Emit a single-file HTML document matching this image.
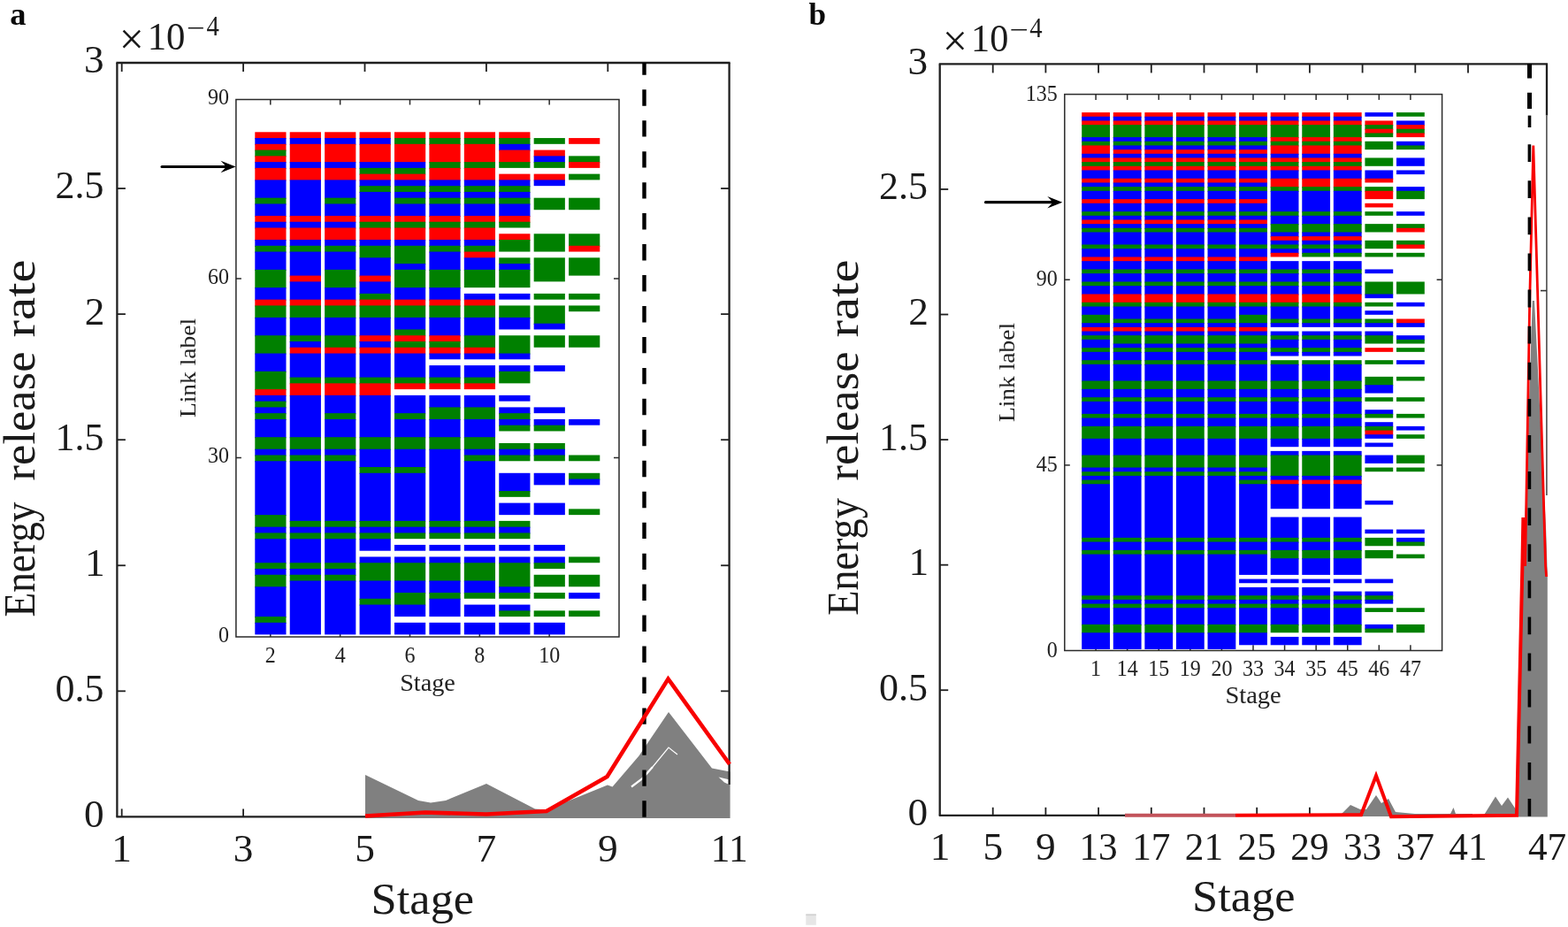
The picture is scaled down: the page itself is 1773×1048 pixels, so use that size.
<!DOCTYPE html>
<html lang="en">
<head>
<meta charset="utf-8">
<title>Energy release rate vs stage</title>
<style>
html,body{margin:0;padding:0;background:#fff;}
body{width:1773px;height:1048px;overflow:hidden;}
svg{display:block;font-family:'Liberation Serif', 'DejaVu Serif', serif;}
</style>
</head>
<body>
<svg width="1773" height="1048" viewBox="0 0 1773 1048">
<rect x="0" y="0" width="1773" height="1048" fill="#ffffff"/>
<text transform="translate(11.31 27.9)" font-size="36.5" font-weight="bold" fill="#0a0a0a">a</text>
<text transform="translate(914.55 27.6) scale(0.9616 1)" font-size="36.5" font-weight="bold" fill="#0a0a0a">b</text>
<g id="a-gray">
<polygon points="413,925 413,876 473,905 487,907.5 504,905 550,886 605,914.5 618,915.5 687,887.5 692.5,889.5 722.5,854.5 756,805 805,868.5 825.6,872.5 825.6,925" fill="#808080"/>
<polyline points="714,889.5 726,880.5 738,867" fill="none" stroke="#fff" stroke-width="2.2"/>
<polyline points="738,867 756,845 766,853" fill="none" stroke="#fff" stroke-width="1.2"/>
<polygon points="812.5,878.5 824,881.2 824,886.8 819,884.4" fill="#fff"/>
</g>
<g id="a-axes" stroke="#1f1f1f" stroke-width="2.3" fill="none">
<path d="M131.4 71 H825.6"/>
<path d="M131.4 923.4 H413"/>
<path d="M132.4 71 V923.4"/>
<path d="M824.6 71 V887"/>
<path d="M137.7 71 v10" stroke-width="1.8"/>
<path d="M275.1 71 v10" stroke-width="1.8"/>
<path d="M412.5 71 v10" stroke-width="1.8"/>
<path d="M549.9 71 v10" stroke-width="1.8"/>
<path d="M687.3 71 v10" stroke-width="1.8"/>
<path d="M137.7 923.4 v-9" stroke-width="1.8"/>
<path d="M275.1 923.4 v-9" stroke-width="1.8"/>
<path d="M132.4 781.33 h9.5" stroke-width="1.8"/>
<path d="M824.6 781.33 h-9.5" stroke-width="1.8"/>
<path d="M132.4 639.27 h9.5" stroke-width="1.8"/>
<path d="M824.6 639.27 h-9.5" stroke-width="1.8"/>
<path d="M132.4 497.2 h9.5" stroke-width="1.8"/>
<path d="M824.6 497.2 h-9.5" stroke-width="1.8"/>
<path d="M132.4 355.13 h9.5" stroke-width="1.8"/>
<path d="M824.6 355.13 h-9.5" stroke-width="1.8"/>
<path d="M132.4 213.07 h9.5" stroke-width="1.8"/>
<path d="M824.6 213.07 h-9.5" stroke-width="1.8"/>
</g>
<text transform="translate(94.94 934.8)" font-size="45.3" fill="#1a1a1a">0</text>
<text transform="translate(62.61 792.73) scale(0.97 1)" font-size="45.3" fill="#1a1a1a">0.5</text>
<text transform="translate(96.07 650.67)" font-size="45.3" fill="#1a1a1a">1</text>
<text transform="translate(62.61 508.6) scale(0.97 1)" font-size="45.3" fill="#1a1a1a">1.5</text>
<text transform="translate(95.84 366.53)" font-size="45.3" fill="#1a1a1a">2</text>
<text transform="translate(62.61 224.47) scale(0.97 1)" font-size="45.3" fill="#1a1a1a">2.5</text>
<text transform="translate(94.94 82.4)" font-size="45.3" fill="#1a1a1a">3</text>
<text transform="translate(126.37 974.2)" font-size="45.3" fill="#1a1a1a">1</text>
<text transform="translate(263.78 974.2)" font-size="45.3" fill="#1a1a1a">3</text>
<text transform="translate(401.18 974.2)" font-size="45.3" fill="#1a1a1a">5</text>
<text transform="translate(538.58 974.2)" font-size="45.3" fill="#1a1a1a">7</text>
<text transform="translate(675.97 974.2)" font-size="45.3" fill="#1a1a1a">9</text>
<text transform="translate(803.87 974.2) scale(0.955 1)" font-size="45.3" fill="#1a1a1a">11</text>
<text transform="translate(419.59 1032.8) scale(1.0391 1)" font-size="50.5" fill="#1a1a1a">Stage</text>
<text transform="translate(38.6 697.43) rotate(-90) scale(0.8966 1)" font-size="50.5" fill="#1a1a1a">Energy</text>
<text transform="translate(38.6 543.45) rotate(-90) scale(1.0412 1)" font-size="50.5" fill="#1a1a1a">release</text>
<text transform="translate(38.6 381.47) rotate(-90) scale(1.1623 1)" font-size="50.5" fill="#1a1a1a">rate</text>
<text transform="translate(134.76 61) scale(0.9976 1)" font-size="50" fill="#1a1a1a">×</text>
<text transform="translate(166.66 55.7) scale(0.9457 1)" font-size="45.3" fill="#1a1a1a">10</text>
<text transform="translate(210.95 42.4) scale(1.1817 1)" font-size="31" fill="#1a1a1a">−</text>
<text transform="translate(233.57 40.1) scale(0.9266 1)" font-size="31" fill="#1a1a1a">4</text>
<path d="M728.5 71 V924.4" stroke="#000" stroke-width="4.4" stroke-dasharray="18.4 16.56" stroke-dashoffset="4.7" fill="none"/>
<polyline points="413,922.5 481,918.5 550,920.5 618,917 686.5,878 755.5,767.5 825,864" fill="none" stroke="#f80000" stroke-width="4.6" stroke-linejoin="miter"/>
<rect x="266.9" y="112.5" width="433.1" height="607.5" fill="#fff" stroke="none"/>
<g stroke="#2a2a2a" stroke-width="1.5" fill="none">
<rect x="266.9" y="112.5" width="433.1" height="607.5"/>
<path d="M305.8 720 v-6"/>
<path d="M305.8 112.5 v6"/>
<path d="M384.64 720 v-6"/>
<path d="M384.64 112.5 v6"/>
<path d="M463.48 720 v-6"/>
<path d="M463.48 112.5 v6"/>
<path d="M542.32 720 v-6"/>
<path d="M542.32 112.5 v6"/>
<path d="M621.16 720 v-6"/>
<path d="M621.16 112.5 v6"/>
<path d="M266.9 517.5 h6"/>
<path d="M700 517.5 h-6"/>
<path d="M266.9 315 h6"/>
<path d="M700 315 h-6"/>
</g>
<g id="a-heat">
<rect x="288.3" y="149.3" width="35.2" height="7.76" fill="#ff0000"/>
<rect x="288.3" y="156.06" width="35.2" height="7.76" fill="#0000ff"/>
<rect x="288.3" y="162.83" width="35.2" height="7.76" fill="#ff0000"/>
<rect x="288.3" y="169.59" width="35.2" height="7.76" fill="#008000"/>
<rect x="288.3" y="176.35" width="35.2" height="7.76" fill="#ff0000"/>
<rect x="288.3" y="183.12" width="35.2" height="7.76" fill="#0000ff"/>
<rect x="288.3" y="189.88" width="35.2" height="14.53" fill="#ff0000"/>
<rect x="288.3" y="203.4" width="35.2" height="21.29" fill="#0000ff"/>
<rect x="288.3" y="223.69" width="35.2" height="7.76" fill="#008000"/>
<rect x="288.3" y="230.46" width="35.2" height="14.53" fill="#0000ff"/>
<rect x="288.3" y="243.98" width="35.2" height="7.76" fill="#ff0000"/>
<rect x="288.3" y="250.75" width="35.2" height="7.76" fill="#0000ff"/>
<rect x="288.3" y="257.51" width="35.2" height="14.53" fill="#ff0000"/>
<rect x="288.3" y="271.03" width="35.2" height="7.76" fill="#0000ff"/>
<rect x="288.3" y="277.8" width="35.2" height="7.76" fill="#008000"/>
<rect x="288.3" y="284.56" width="35.2" height="21.29" fill="#0000ff"/>
<rect x="288.3" y="304.85" width="35.2" height="21.29" fill="#008000"/>
<rect x="288.3" y="325.14" width="35.2" height="14.53" fill="#0000ff"/>
<rect x="288.3" y="338.66" width="35.2" height="7.76" fill="#ff0000"/>
<rect x="288.3" y="345.43" width="35.2" height="14.53" fill="#008000"/>
<rect x="288.3" y="358.95" width="35.2" height="21.29" fill="#0000ff"/>
<rect x="288.3" y="379.24" width="35.2" height="21.29" fill="#008000"/>
<rect x="288.3" y="399.53" width="35.2" height="21.29" fill="#0000ff"/>
<rect x="288.3" y="419.82" width="35.2" height="21.29" fill="#008000"/>
<rect x="288.3" y="440.11" width="35.2" height="7.76" fill="#ff0000"/>
<rect x="288.3" y="446.87" width="35.2" height="7.76" fill="#0000ff"/>
<rect x="288.3" y="453.63" width="35.2" height="7.76" fill="#008000"/>
<rect x="288.3" y="460.4" width="35.2" height="7.76" fill="#0000ff"/>
<rect x="288.3" y="467.16" width="35.2" height="7.76" fill="#008000"/>
<rect x="288.3" y="473.92" width="35.2" height="21.29" fill="#0000ff"/>
<rect x="288.3" y="494.21" width="35.2" height="14.53" fill="#008000"/>
<rect x="288.3" y="507.74" width="35.2" height="7.76" fill="#0000ff"/>
<rect x="288.3" y="514.5" width="35.2" height="7.76" fill="#008000"/>
<rect x="288.3" y="521.26" width="35.2" height="61.87" fill="#0000ff"/>
<rect x="288.3" y="582.13" width="35.2" height="14.53" fill="#008000"/>
<rect x="288.3" y="595.66" width="35.2" height="7.76" fill="#0000ff"/>
<rect x="288.3" y="602.42" width="35.2" height="7.76" fill="#008000"/>
<rect x="288.3" y="609.18" width="35.2" height="28.05" fill="#0000ff"/>
<rect x="288.3" y="636.24" width="35.2" height="7.76" fill="#008000"/>
<rect x="288.3" y="643" width="35.2" height="7.76" fill="#0000ff"/>
<rect x="288.3" y="649.76" width="35.2" height="14.53" fill="#008000"/>
<rect x="288.3" y="663.29" width="35.2" height="34.82" fill="#0000ff"/>
<rect x="288.3" y="697.1" width="35.2" height="7.76" fill="#008000"/>
<rect x="288.3" y="703.87" width="35.2" height="13.53" fill="#0000ff"/>
<rect x="327.72" y="149.3" width="35.2" height="7.76" fill="#ff0000"/>
<rect x="327.72" y="156.06" width="35.2" height="7.76" fill="#0000ff"/>
<rect x="327.72" y="162.83" width="35.2" height="21.29" fill="#ff0000"/>
<rect x="327.72" y="183.12" width="35.2" height="7.76" fill="#0000ff"/>
<rect x="327.72" y="189.88" width="35.2" height="14.53" fill="#ff0000"/>
<rect x="327.72" y="203.4" width="35.2" height="41.58" fill="#0000ff"/>
<rect x="327.72" y="243.98" width="35.2" height="7.76" fill="#ff0000"/>
<rect x="327.72" y="250.75" width="35.2" height="7.76" fill="#0000ff"/>
<rect x="327.72" y="257.51" width="35.2" height="14.53" fill="#ff0000"/>
<rect x="327.72" y="271.03" width="35.2" height="7.76" fill="#0000ff"/>
<rect x="327.72" y="277.8" width="35.2" height="7.76" fill="#008000"/>
<rect x="327.72" y="284.56" width="35.2" height="28.05" fill="#0000ff"/>
<rect x="327.72" y="311.61" width="35.2" height="7.76" fill="#ff0000"/>
<rect x="327.72" y="318.38" width="35.2" height="21.29" fill="#0000ff"/>
<rect x="327.72" y="338.66" width="35.2" height="7.76" fill="#ff0000"/>
<rect x="327.72" y="345.43" width="35.2" height="14.53" fill="#008000"/>
<rect x="327.72" y="358.95" width="35.2" height="21.29" fill="#0000ff"/>
<rect x="327.72" y="379.24" width="35.2" height="7.76" fill="#008000"/>
<rect x="327.72" y="386" width="35.2" height="7.76" fill="#0000ff"/>
<rect x="327.72" y="392.77" width="35.2" height="7.76" fill="#ff0000"/>
<rect x="327.72" y="399.53" width="35.2" height="28.05" fill="#0000ff"/>
<rect x="327.72" y="426.58" width="35.2" height="7.76" fill="#008000"/>
<rect x="327.72" y="433.35" width="35.2" height="14.53" fill="#ff0000"/>
<rect x="327.72" y="446.87" width="35.2" height="48.34" fill="#0000ff"/>
<rect x="327.72" y="494.21" width="35.2" height="14.53" fill="#008000"/>
<rect x="327.72" y="507.74" width="35.2" height="7.76" fill="#0000ff"/>
<rect x="327.72" y="514.5" width="35.2" height="7.76" fill="#008000"/>
<rect x="327.72" y="521.26" width="35.2" height="68.63" fill="#0000ff"/>
<rect x="327.72" y="588.89" width="35.2" height="7.76" fill="#008000"/>
<rect x="327.72" y="595.66" width="35.2" height="7.76" fill="#0000ff"/>
<rect x="327.72" y="602.42" width="35.2" height="7.76" fill="#008000"/>
<rect x="327.72" y="609.18" width="35.2" height="28.05" fill="#0000ff"/>
<rect x="327.72" y="636.24" width="35.2" height="7.76" fill="#008000"/>
<rect x="327.72" y="643" width="35.2" height="7.76" fill="#0000ff"/>
<rect x="327.72" y="649.76" width="35.2" height="7.76" fill="#008000"/>
<rect x="327.72" y="656.52" width="35.2" height="60.87" fill="#0000ff"/>
<rect x="367.14" y="149.3" width="35.2" height="7.76" fill="#ff0000"/>
<rect x="367.14" y="156.06" width="35.2" height="7.76" fill="#0000ff"/>
<rect x="367.14" y="162.83" width="35.2" height="21.29" fill="#ff0000"/>
<rect x="367.14" y="183.12" width="35.2" height="7.76" fill="#0000ff"/>
<rect x="367.14" y="189.88" width="35.2" height="14.53" fill="#ff0000"/>
<rect x="367.14" y="203.4" width="35.2" height="21.29" fill="#0000ff"/>
<rect x="367.14" y="223.69" width="35.2" height="7.76" fill="#008000"/>
<rect x="367.14" y="230.46" width="35.2" height="14.53" fill="#0000ff"/>
<rect x="367.14" y="243.98" width="35.2" height="7.76" fill="#ff0000"/>
<rect x="367.14" y="250.75" width="35.2" height="7.76" fill="#0000ff"/>
<rect x="367.14" y="257.51" width="35.2" height="14.53" fill="#ff0000"/>
<rect x="367.14" y="271.03" width="35.2" height="7.76" fill="#0000ff"/>
<rect x="367.14" y="277.8" width="35.2" height="7.76" fill="#008000"/>
<rect x="367.14" y="284.56" width="35.2" height="21.29" fill="#0000ff"/>
<rect x="367.14" y="304.85" width="35.2" height="21.29" fill="#008000"/>
<rect x="367.14" y="325.14" width="35.2" height="14.53" fill="#0000ff"/>
<rect x="367.14" y="338.66" width="35.2" height="7.76" fill="#ff0000"/>
<rect x="367.14" y="345.43" width="35.2" height="14.53" fill="#008000"/>
<rect x="367.14" y="358.95" width="35.2" height="21.29" fill="#0000ff"/>
<rect x="367.14" y="379.24" width="35.2" height="14.53" fill="#008000"/>
<rect x="367.14" y="392.77" width="35.2" height="7.76" fill="#ff0000"/>
<rect x="367.14" y="399.53" width="35.2" height="28.05" fill="#0000ff"/>
<rect x="367.14" y="426.58" width="35.2" height="7.76" fill="#008000"/>
<rect x="367.14" y="433.35" width="35.2" height="14.53" fill="#ff0000"/>
<rect x="367.14" y="446.87" width="35.2" height="21.29" fill="#0000ff"/>
<rect x="367.14" y="467.16" width="35.2" height="7.76" fill="#008000"/>
<rect x="367.14" y="473.92" width="35.2" height="21.29" fill="#0000ff"/>
<rect x="367.14" y="494.21" width="35.2" height="14.53" fill="#008000"/>
<rect x="367.14" y="507.74" width="35.2" height="7.76" fill="#0000ff"/>
<rect x="367.14" y="514.5" width="35.2" height="7.76" fill="#008000"/>
<rect x="367.14" y="521.26" width="35.2" height="68.63" fill="#0000ff"/>
<rect x="367.14" y="588.89" width="35.2" height="7.76" fill="#008000"/>
<rect x="367.14" y="595.66" width="35.2" height="7.76" fill="#0000ff"/>
<rect x="367.14" y="602.42" width="35.2" height="7.76" fill="#008000"/>
<rect x="367.14" y="609.18" width="35.2" height="28.05" fill="#0000ff"/>
<rect x="367.14" y="636.24" width="35.2" height="7.76" fill="#008000"/>
<rect x="367.14" y="643" width="35.2" height="7.76" fill="#0000ff"/>
<rect x="367.14" y="649.76" width="35.2" height="7.76" fill="#008000"/>
<rect x="367.14" y="656.52" width="35.2" height="60.87" fill="#0000ff"/>
<rect x="406.56" y="149.3" width="35.2" height="7.76" fill="#ff0000"/>
<rect x="406.56" y="156.06" width="35.2" height="7.76" fill="#0000ff"/>
<rect x="406.56" y="162.83" width="35.2" height="21.29" fill="#ff0000"/>
<rect x="406.56" y="183.12" width="35.2" height="7.76" fill="#0000ff"/>
<rect x="406.56" y="189.88" width="35.2" height="7.76" fill="#008000"/>
<rect x="406.56" y="196.64" width="35.2" height="7.76" fill="#ff0000"/>
<rect x="406.56" y="203.4" width="35.2" height="7.76" fill="#0000ff"/>
<rect x="406.56" y="210.17" width="35.2" height="7.76" fill="#008000"/>
<rect x="406.56" y="216.93" width="35.2" height="28.05" fill="#0000ff"/>
<rect x="406.56" y="243.98" width="35.2" height="7.76" fill="#ff0000"/>
<rect x="406.56" y="250.75" width="35.2" height="7.76" fill="#008000"/>
<rect x="406.56" y="257.51" width="35.2" height="14.53" fill="#ff0000"/>
<rect x="406.56" y="271.03" width="35.2" height="7.76" fill="#0000ff"/>
<rect x="406.56" y="277.8" width="35.2" height="14.53" fill="#008000"/>
<rect x="406.56" y="291.32" width="35.2" height="21.29" fill="#0000ff"/>
<rect x="406.56" y="311.61" width="35.2" height="7.76" fill="#ff0000"/>
<rect x="406.56" y="318.38" width="35.2" height="14.53" fill="#0000ff"/>
<rect x="406.56" y="331.9" width="35.2" height="7.76" fill="#008000"/>
<rect x="406.56" y="338.66" width="35.2" height="7.76" fill="#ff0000"/>
<rect x="406.56" y="345.43" width="35.2" height="14.53" fill="#008000"/>
<rect x="406.56" y="358.95" width="35.2" height="21.29" fill="#0000ff"/>
<rect x="406.56" y="379.24" width="35.2" height="7.76" fill="#ff0000"/>
<rect x="406.56" y="386" width="35.2" height="7.76" fill="#0000ff"/>
<rect x="406.56" y="392.77" width="35.2" height="7.76" fill="#ff0000"/>
<rect x="406.56" y="399.53" width="35.2" height="28.05" fill="#0000ff"/>
<rect x="406.56" y="426.58" width="35.2" height="7.76" fill="#008000"/>
<rect x="406.56" y="433.35" width="35.2" height="14.53" fill="#ff0000"/>
<rect x="406.56" y="446.87" width="35.2" height="48.34" fill="#0000ff"/>
<rect x="406.56" y="494.21" width="35.2" height="14.53" fill="#008000"/>
<rect x="406.56" y="507.74" width="35.2" height="21.29" fill="#0000ff"/>
<rect x="406.56" y="528.03" width="35.2" height="7.76" fill="#008000"/>
<rect x="406.56" y="534.79" width="35.2" height="55.1" fill="#0000ff"/>
<rect x="406.56" y="588.89" width="35.2" height="7.76" fill="#008000"/>
<rect x="406.56" y="595.66" width="35.2" height="7.76" fill="#0000ff"/>
<rect x="406.56" y="602.42" width="35.2" height="7.76" fill="#008000"/>
<rect x="406.56" y="609.18" width="35.2" height="13.53" fill="#0000ff"/>
<rect x="406.56" y="629.47" width="35.2" height="7.76" fill="#0000ff"/>
<rect x="406.56" y="636.24" width="35.2" height="21.29" fill="#008000"/>
<rect x="406.56" y="656.52" width="35.2" height="21.29" fill="#0000ff"/>
<rect x="406.56" y="676.81" width="35.2" height="7.76" fill="#008000"/>
<rect x="406.56" y="683.58" width="35.2" height="33.82" fill="#0000ff"/>
<rect x="445.98" y="149.3" width="35.2" height="7.76" fill="#ff0000"/>
<rect x="445.98" y="156.06" width="35.2" height="7.76" fill="#008000"/>
<rect x="445.98" y="162.83" width="35.2" height="21.29" fill="#ff0000"/>
<rect x="445.98" y="183.12" width="35.2" height="7.76" fill="#0000ff"/>
<rect x="445.98" y="189.88" width="35.2" height="7.76" fill="#008000"/>
<rect x="445.98" y="196.64" width="35.2" height="7.76" fill="#ff0000"/>
<rect x="445.98" y="203.4" width="35.2" height="7.76" fill="#0000ff"/>
<rect x="445.98" y="210.17" width="35.2" height="7.76" fill="#008000"/>
<rect x="445.98" y="216.93" width="35.2" height="7.76" fill="#0000ff"/>
<rect x="445.98" y="223.69" width="35.2" height="7.76" fill="#008000"/>
<rect x="445.98" y="230.46" width="35.2" height="14.53" fill="#0000ff"/>
<rect x="445.98" y="243.98" width="35.2" height="7.76" fill="#ff0000"/>
<rect x="445.98" y="250.75" width="35.2" height="7.76" fill="#008000"/>
<rect x="445.98" y="257.51" width="35.2" height="14.53" fill="#ff0000"/>
<rect x="445.98" y="271.03" width="35.2" height="7.76" fill="#0000ff"/>
<rect x="445.98" y="277.8" width="35.2" height="21.29" fill="#008000"/>
<rect x="445.98" y="298.09" width="35.2" height="7.76" fill="#0000ff"/>
<rect x="445.98" y="304.85" width="35.2" height="21.29" fill="#008000"/>
<rect x="445.98" y="325.14" width="35.2" height="14.53" fill="#0000ff"/>
<rect x="445.98" y="338.66" width="35.2" height="7.76" fill="#ff0000"/>
<rect x="445.98" y="345.43" width="35.2" height="14.53" fill="#008000"/>
<rect x="445.98" y="358.95" width="35.2" height="14.53" fill="#0000ff"/>
<rect x="445.98" y="372.48" width="35.2" height="7.76" fill="#008000"/>
<rect x="445.98" y="379.24" width="35.2" height="7.76" fill="#ff0000"/>
<rect x="445.98" y="386" width="35.2" height="7.76" fill="#008000"/>
<rect x="445.98" y="392.77" width="35.2" height="7.76" fill="#ff0000"/>
<rect x="445.98" y="399.53" width="35.2" height="28.05" fill="#0000ff"/>
<rect x="445.98" y="426.58" width="35.2" height="7.76" fill="#008000"/>
<rect x="445.98" y="433.35" width="35.2" height="6.76" fill="#ff0000"/>
<rect x="445.98" y="446.87" width="35.2" height="21.29" fill="#0000ff"/>
<rect x="445.98" y="467.16" width="35.2" height="7.76" fill="#008000"/>
<rect x="445.98" y="473.92" width="35.2" height="21.29" fill="#0000ff"/>
<rect x="445.98" y="494.21" width="35.2" height="14.53" fill="#008000"/>
<rect x="445.98" y="507.74" width="35.2" height="21.29" fill="#0000ff"/>
<rect x="445.98" y="528.03" width="35.2" height="7.76" fill="#008000"/>
<rect x="445.98" y="534.79" width="35.2" height="55.1" fill="#0000ff"/>
<rect x="445.98" y="588.89" width="35.2" height="7.76" fill="#008000"/>
<rect x="445.98" y="595.66" width="35.2" height="7.76" fill="#0000ff"/>
<rect x="445.98" y="602.42" width="35.2" height="6.76" fill="#008000"/>
<rect x="445.98" y="615.95" width="35.2" height="6.76" fill="#0000ff"/>
<rect x="445.98" y="629.47" width="35.2" height="7.76" fill="#0000ff"/>
<rect x="445.98" y="636.24" width="35.2" height="21.29" fill="#008000"/>
<rect x="445.98" y="656.52" width="35.2" height="14.53" fill="#0000ff"/>
<rect x="445.98" y="670.05" width="35.2" height="14.53" fill="#008000"/>
<rect x="445.98" y="683.58" width="35.2" height="13.53" fill="#0000ff"/>
<rect x="445.98" y="703.87" width="35.2" height="13.53" fill="#0000ff"/>
<rect x="485.4" y="149.3" width="35.2" height="7.76" fill="#ff0000"/>
<rect x="485.4" y="156.06" width="35.2" height="7.76" fill="#008000"/>
<rect x="485.4" y="162.83" width="35.2" height="21.29" fill="#ff0000"/>
<rect x="485.4" y="183.12" width="35.2" height="7.76" fill="#008000"/>
<rect x="485.4" y="189.88" width="35.2" height="14.53" fill="#ff0000"/>
<rect x="485.4" y="203.4" width="35.2" height="7.76" fill="#0000ff"/>
<rect x="485.4" y="210.17" width="35.2" height="7.76" fill="#008000"/>
<rect x="485.4" y="216.93" width="35.2" height="7.76" fill="#0000ff"/>
<rect x="485.4" y="223.69" width="35.2" height="7.76" fill="#008000"/>
<rect x="485.4" y="230.46" width="35.2" height="14.53" fill="#0000ff"/>
<rect x="485.4" y="243.98" width="35.2" height="7.76" fill="#ff0000"/>
<rect x="485.4" y="250.75" width="35.2" height="7.76" fill="#008000"/>
<rect x="485.4" y="257.51" width="35.2" height="14.53" fill="#ff0000"/>
<rect x="485.4" y="271.03" width="35.2" height="7.76" fill="#0000ff"/>
<rect x="485.4" y="277.8" width="35.2" height="7.76" fill="#008000"/>
<rect x="485.4" y="284.56" width="35.2" height="21.29" fill="#0000ff"/>
<rect x="485.4" y="304.85" width="35.2" height="21.29" fill="#008000"/>
<rect x="485.4" y="325.14" width="35.2" height="14.53" fill="#0000ff"/>
<rect x="485.4" y="338.66" width="35.2" height="7.76" fill="#ff0000"/>
<rect x="485.4" y="345.43" width="35.2" height="14.53" fill="#008000"/>
<rect x="485.4" y="358.95" width="35.2" height="21.29" fill="#0000ff"/>
<rect x="485.4" y="379.24" width="35.2" height="7.76" fill="#ff0000"/>
<rect x="485.4" y="386" width="35.2" height="7.76" fill="#008000"/>
<rect x="485.4" y="392.77" width="35.2" height="7.76" fill="#ff0000"/>
<rect x="485.4" y="399.53" width="35.2" height="6.76" fill="#0000ff"/>
<rect x="485.4" y="413.06" width="35.2" height="14.53" fill="#0000ff"/>
<rect x="485.4" y="426.58" width="35.2" height="7.76" fill="#008000"/>
<rect x="485.4" y="433.35" width="35.2" height="6.76" fill="#ff0000"/>
<rect x="485.4" y="446.87" width="35.2" height="14.53" fill="#0000ff"/>
<rect x="485.4" y="460.4" width="35.2" height="14.53" fill="#008000"/>
<rect x="485.4" y="473.92" width="35.2" height="21.29" fill="#0000ff"/>
<rect x="485.4" y="494.21" width="35.2" height="14.53" fill="#008000"/>
<rect x="485.4" y="507.74" width="35.2" height="82.16" fill="#0000ff"/>
<rect x="485.4" y="588.89" width="35.2" height="7.76" fill="#008000"/>
<rect x="485.4" y="595.66" width="35.2" height="7.76" fill="#0000ff"/>
<rect x="485.4" y="602.42" width="35.2" height="6.76" fill="#008000"/>
<rect x="485.4" y="615.95" width="35.2" height="6.76" fill="#0000ff"/>
<rect x="485.4" y="629.47" width="35.2" height="7.76" fill="#0000ff"/>
<rect x="485.4" y="636.24" width="35.2" height="21.29" fill="#008000"/>
<rect x="485.4" y="656.52" width="35.2" height="14.53" fill="#0000ff"/>
<rect x="485.4" y="670.05" width="35.2" height="7.76" fill="#008000"/>
<rect x="485.4" y="676.81" width="35.2" height="20.29" fill="#0000ff"/>
<rect x="485.4" y="703.87" width="35.2" height="13.53" fill="#0000ff"/>
<rect x="524.82" y="149.3" width="35.2" height="7.76" fill="#ff0000"/>
<rect x="524.82" y="156.06" width="35.2" height="7.76" fill="#008000"/>
<rect x="524.82" y="162.83" width="35.2" height="21.29" fill="#ff0000"/>
<rect x="524.82" y="183.12" width="35.2" height="7.76" fill="#008000"/>
<rect x="524.82" y="189.88" width="35.2" height="14.53" fill="#ff0000"/>
<rect x="524.82" y="203.4" width="35.2" height="7.76" fill="#0000ff"/>
<rect x="524.82" y="210.17" width="35.2" height="7.76" fill="#008000"/>
<rect x="524.82" y="216.93" width="35.2" height="7.76" fill="#0000ff"/>
<rect x="524.82" y="223.69" width="35.2" height="7.76" fill="#008000"/>
<rect x="524.82" y="230.46" width="35.2" height="14.53" fill="#0000ff"/>
<rect x="524.82" y="243.98" width="35.2" height="7.76" fill="#ff0000"/>
<rect x="524.82" y="250.75" width="35.2" height="7.76" fill="#008000"/>
<rect x="524.82" y="257.51" width="35.2" height="14.53" fill="#ff0000"/>
<rect x="524.82" y="271.03" width="35.2" height="7.76" fill="#0000ff"/>
<rect x="524.82" y="277.8" width="35.2" height="7.76" fill="#008000"/>
<rect x="524.82" y="284.56" width="35.2" height="7.76" fill="#ff0000"/>
<rect x="524.82" y="291.32" width="35.2" height="14.53" fill="#0000ff"/>
<rect x="524.82" y="304.85" width="35.2" height="20.29" fill="#008000"/>
<rect x="524.82" y="331.9" width="35.2" height="7.76" fill="#0000ff"/>
<rect x="524.82" y="338.66" width="35.2" height="7.76" fill="#ff0000"/>
<rect x="524.82" y="345.43" width="35.2" height="14.53" fill="#008000"/>
<rect x="524.82" y="358.95" width="35.2" height="21.29" fill="#0000ff"/>
<rect x="524.82" y="379.24" width="35.2" height="14.53" fill="#008000"/>
<rect x="524.82" y="392.77" width="35.2" height="7.76" fill="#ff0000"/>
<rect x="524.82" y="399.53" width="35.2" height="6.76" fill="#0000ff"/>
<rect x="524.82" y="413.06" width="35.2" height="14.53" fill="#0000ff"/>
<rect x="524.82" y="426.58" width="35.2" height="7.76" fill="#008000"/>
<rect x="524.82" y="433.35" width="35.2" height="6.76" fill="#ff0000"/>
<rect x="524.82" y="446.87" width="35.2" height="14.53" fill="#0000ff"/>
<rect x="524.82" y="460.4" width="35.2" height="14.53" fill="#008000"/>
<rect x="524.82" y="473.92" width="35.2" height="21.29" fill="#0000ff"/>
<rect x="524.82" y="494.21" width="35.2" height="14.53" fill="#008000"/>
<rect x="524.82" y="507.74" width="35.2" height="7.76" fill="#0000ff"/>
<rect x="524.82" y="514.5" width="35.2" height="7.76" fill="#008000"/>
<rect x="524.82" y="521.26" width="35.2" height="68.63" fill="#0000ff"/>
<rect x="524.82" y="588.89" width="35.2" height="7.76" fill="#008000"/>
<rect x="524.82" y="595.66" width="35.2" height="7.76" fill="#0000ff"/>
<rect x="524.82" y="602.42" width="35.2" height="6.76" fill="#008000"/>
<rect x="524.82" y="615.95" width="35.2" height="6.76" fill="#0000ff"/>
<rect x="524.82" y="629.47" width="35.2" height="7.76" fill="#0000ff"/>
<rect x="524.82" y="636.24" width="35.2" height="21.29" fill="#008000"/>
<rect x="524.82" y="656.52" width="35.2" height="14.53" fill="#0000ff"/>
<rect x="524.82" y="670.05" width="35.2" height="6.76" fill="#008000"/>
<rect x="524.82" y="683.58" width="35.2" height="13.53" fill="#0000ff"/>
<rect x="524.82" y="703.87" width="35.2" height="13.53" fill="#0000ff"/>
<rect x="564.24" y="149.3" width="35.2" height="7.76" fill="#ff0000"/>
<rect x="564.24" y="156.06" width="35.2" height="7.76" fill="#008000"/>
<rect x="564.24" y="162.83" width="35.2" height="7.76" fill="#0000ff"/>
<rect x="564.24" y="169.59" width="35.2" height="14.53" fill="#ff0000"/>
<rect x="564.24" y="183.12" width="35.2" height="6.76" fill="#008000"/>
<rect x="564.24" y="196.64" width="35.2" height="7.76" fill="#ff0000"/>
<rect x="564.24" y="203.4" width="35.2" height="7.76" fill="#0000ff"/>
<rect x="564.24" y="210.17" width="35.2" height="7.76" fill="#008000"/>
<rect x="564.24" y="216.93" width="35.2" height="7.76" fill="#0000ff"/>
<rect x="564.24" y="223.69" width="35.2" height="7.76" fill="#008000"/>
<rect x="564.24" y="230.46" width="35.2" height="14.53" fill="#0000ff"/>
<rect x="564.24" y="243.98" width="35.2" height="7.76" fill="#ff0000"/>
<rect x="564.24" y="250.75" width="35.2" height="6.76" fill="#008000"/>
<rect x="564.24" y="264.27" width="35.2" height="7.76" fill="#ff0000"/>
<rect x="564.24" y="271.03" width="35.2" height="13.53" fill="#008000"/>
<rect x="564.24" y="291.32" width="35.2" height="7.76" fill="#008000"/>
<rect x="564.24" y="298.09" width="35.2" height="7.76" fill="#0000ff"/>
<rect x="564.24" y="304.85" width="35.2" height="20.29" fill="#008000"/>
<rect x="564.24" y="331.9" width="35.2" height="6.76" fill="#0000ff"/>
<rect x="564.24" y="345.43" width="35.2" height="14.53" fill="#008000"/>
<rect x="564.24" y="358.95" width="35.2" height="13.53" fill="#0000ff"/>
<rect x="564.24" y="379.24" width="35.2" height="21.29" fill="#008000"/>
<rect x="564.24" y="399.53" width="35.2" height="6.76" fill="#0000ff"/>
<rect x="564.24" y="413.06" width="35.2" height="7.76" fill="#0000ff"/>
<rect x="564.24" y="419.82" width="35.2" height="13.53" fill="#008000"/>
<rect x="564.24" y="446.87" width="35.2" height="6.76" fill="#0000ff"/>
<rect x="564.24" y="460.4" width="35.2" height="7.76" fill="#0000ff"/>
<rect x="564.24" y="467.16" width="35.2" height="7.76" fill="#008000"/>
<rect x="564.24" y="473.92" width="35.2" height="7.76" fill="#0000ff"/>
<rect x="564.24" y="480.69" width="35.2" height="6.76" fill="#008000"/>
<rect x="564.24" y="500.98" width="35.2" height="7.76" fill="#008000"/>
<rect x="564.24" y="507.74" width="35.2" height="7.76" fill="#0000ff"/>
<rect x="564.24" y="514.5" width="35.2" height="6.76" fill="#008000"/>
<rect x="564.24" y="534.79" width="35.2" height="21.29" fill="#0000ff"/>
<rect x="564.24" y="555.08" width="35.2" height="6.76" fill="#008000"/>
<rect x="564.24" y="568.61" width="35.2" height="13.53" fill="#0000ff"/>
<rect x="564.24" y="588.89" width="35.2" height="7.76" fill="#008000"/>
<rect x="564.24" y="595.66" width="35.2" height="7.76" fill="#0000ff"/>
<rect x="564.24" y="602.42" width="35.2" height="6.76" fill="#008000"/>
<rect x="564.24" y="615.95" width="35.2" height="6.76" fill="#0000ff"/>
<rect x="564.24" y="629.47" width="35.2" height="7.76" fill="#0000ff"/>
<rect x="564.24" y="636.24" width="35.2" height="28.05" fill="#008000"/>
<rect x="564.24" y="663.29" width="35.2" height="7.76" fill="#0000ff"/>
<rect x="564.24" y="670.05" width="35.2" height="6.76" fill="#008000"/>
<rect x="564.24" y="683.58" width="35.2" height="7.76" fill="#0000ff"/>
<rect x="564.24" y="690.34" width="35.2" height="6.76" fill="#008000"/>
<rect x="564.24" y="703.87" width="35.2" height="13.53" fill="#0000ff"/>
<rect x="603.66" y="156.06" width="35.2" height="6.76" fill="#008000"/>
<rect x="603.66" y="169.59" width="35.2" height="7.76" fill="#ff0000"/>
<rect x="603.66" y="176.35" width="35.2" height="7.76" fill="#0000ff"/>
<rect x="603.66" y="183.12" width="35.2" height="6.76" fill="#008000"/>
<rect x="603.66" y="196.64" width="35.2" height="7.76" fill="#ff0000"/>
<rect x="603.66" y="203.4" width="35.2" height="6.76" fill="#0000ff"/>
<rect x="603.66" y="223.69" width="35.2" height="13.53" fill="#008000"/>
<rect x="603.66" y="264.27" width="35.2" height="20.29" fill="#008000"/>
<rect x="603.66" y="291.32" width="35.2" height="27.05" fill="#008000"/>
<rect x="603.66" y="331.9" width="35.2" height="6.76" fill="#008000"/>
<rect x="603.66" y="345.43" width="35.2" height="21.29" fill="#008000"/>
<rect x="603.66" y="365.72" width="35.2" height="6.76" fill="#0000ff"/>
<rect x="603.66" y="379.24" width="35.2" height="13.53" fill="#008000"/>
<rect x="603.66" y="413.06" width="35.2" height="6.76" fill="#0000ff"/>
<rect x="603.66" y="460.4" width="35.2" height="6.76" fill="#0000ff"/>
<rect x="603.66" y="473.92" width="35.2" height="7.76" fill="#0000ff"/>
<rect x="603.66" y="480.69" width="35.2" height="6.76" fill="#008000"/>
<rect x="603.66" y="500.98" width="35.2" height="7.76" fill="#008000"/>
<rect x="603.66" y="507.74" width="35.2" height="7.76" fill="#0000ff"/>
<rect x="603.66" y="514.5" width="35.2" height="6.76" fill="#008000"/>
<rect x="603.66" y="534.79" width="35.2" height="13.53" fill="#0000ff"/>
<rect x="603.66" y="568.61" width="35.2" height="13.53" fill="#0000ff"/>
<rect x="603.66" y="615.95" width="35.2" height="6.76" fill="#0000ff"/>
<rect x="603.66" y="629.47" width="35.2" height="7.76" fill="#0000ff"/>
<rect x="603.66" y="636.24" width="35.2" height="6.76" fill="#008000"/>
<rect x="603.66" y="649.76" width="35.2" height="13.53" fill="#008000"/>
<rect x="603.66" y="670.05" width="35.2" height="6.76" fill="#008000"/>
<rect x="603.66" y="690.34" width="35.2" height="6.76" fill="#008000"/>
<rect x="603.66" y="703.87" width="35.2" height="13.53" fill="#0000ff"/>
<rect x="643.08" y="156.06" width="35.2" height="6.76" fill="#ff0000"/>
<rect x="643.08" y="176.35" width="35.2" height="7.76" fill="#008000"/>
<rect x="643.08" y="183.12" width="35.2" height="6.76" fill="#ff0000"/>
<rect x="643.08" y="196.64" width="35.2" height="6.76" fill="#008000"/>
<rect x="643.08" y="223.69" width="35.2" height="13.53" fill="#008000"/>
<rect x="643.08" y="264.27" width="35.2" height="14.53" fill="#008000"/>
<rect x="643.08" y="277.8" width="35.2" height="6.76" fill="#ff0000"/>
<rect x="643.08" y="291.32" width="35.2" height="20.29" fill="#008000"/>
<rect x="643.08" y="331.9" width="35.2" height="6.76" fill="#008000"/>
<rect x="643.08" y="345.43" width="35.2" height="6.76" fill="#008000"/>
<rect x="643.08" y="379.24" width="35.2" height="13.53" fill="#008000"/>
<rect x="643.08" y="473.92" width="35.2" height="6.76" fill="#0000ff"/>
<rect x="643.08" y="514.5" width="35.2" height="6.76" fill="#008000"/>
<rect x="643.08" y="534.79" width="35.2" height="7.76" fill="#008000"/>
<rect x="643.08" y="541.55" width="35.2" height="6.76" fill="#0000ff"/>
<rect x="643.08" y="575.37" width="35.2" height="6.76" fill="#008000"/>
<rect x="643.08" y="629.47" width="35.2" height="6.76" fill="#008000"/>
<rect x="643.08" y="649.76" width="35.2" height="13.53" fill="#008000"/>
<rect x="643.08" y="670.05" width="35.2" height="6.76" fill="#0000ff"/>
<rect x="643.08" y="690.34" width="35.2" height="6.76" fill="#008000"/>
</g>
<text transform="translate(247.12 725.9) scale(0.985 1)" font-size="24.4" fill="#222">0</text>
<text transform="translate(235.11 523.4) scale(0.985 1)" font-size="24.4" fill="#222">30</text>
<text transform="translate(235.11 320.9) scale(0.985 1)" font-size="24.4" fill="#222">60</text>
<text transform="translate(235.11 118.4) scale(0.985 1)" font-size="24.4" fill="#222">90</text>
<text transform="translate(299.79 749) scale(0.985 1)" font-size="24.4" fill="#222">2</text>
<text transform="translate(378.63 749) scale(0.985 1)" font-size="24.4" fill="#222">4</text>
<text transform="translate(457.47 749) scale(0.985 1)" font-size="24.4" fill="#222">6</text>
<text transform="translate(536.31 749) scale(0.985 1)" font-size="24.4" fill="#222">8</text>
<text transform="translate(609.14 749) scale(0.985 1)" font-size="24.4" fill="#222">10</text>
<text transform="translate(452.16 780.8) scale(1.0666 1)" font-size="26.5" fill="#222">Stage</text>
<text transform="translate(221.2 472.09) rotate(-90) scale(1.0786 1)" font-size="25.5" fill="#222">Link label</text>
<path d="M183.1 188.5 H258.6" stroke="#000" stroke-width="3.2" stroke-linecap="round" fill="none"/>
<path d="M266.6 188.5 L249.6 181.7 Q254.1 186.5 255.6 188.5 Q254.1 190.5 249.6 195.3 Z" fill="#000"/>
<g id="b-gray">
<polygon points="1716.5,923.5 1721.7,640 1724.5,585 1732.8,340 1735,340 1748.2,600 1749.8,650 1749.8,923.5" fill="#808080"/>
<polygon points="1514,923 1527,910 1538,915 1545,915 1556,899 1562,908 1570,903 1578,918 1600,920 1640,920 1643.5,913 1646,920 1665,920 1665,923" fill="#808080"/>
<polygon points="1677,923 1691,900.5 1698,911 1705,901.5 1716,918 1716,923" fill="#808080"/>
</g>
<g id="b-axes" stroke="#1f1f1f" stroke-width="2.3" fill="none">
<path d="M1061.7 72.4 H1750"/>
<path d="M1061.7 921.8 H1274"/>
<path d="M1062.7 72.4 V921.8"/>
<path d="M1749 72.4 V130.5"/>
<path d="M1122.7 72.4 v10" stroke-width="1.8"/>
<path d="M1122.7 921.8 v-9" stroke-width="1.8"/>
<path d="M1182.4 72.4 v10" stroke-width="1.8"/>
<path d="M1182.4 921.8 v-9" stroke-width="1.8"/>
<path d="M1242.1 72.4 v10" stroke-width="1.8"/>
<path d="M1242.1 921.8 v-9" stroke-width="1.8"/>
<path d="M1301.8 72.4 v10" stroke-width="1.8"/>
<path d="M1301.8 921.8 v-9" stroke-width="1.8"/>
<path d="M1361.5 72.4 v10" stroke-width="1.8"/>
<path d="M1361.5 921.8 v-9" stroke-width="1.8"/>
<path d="M1421.2 72.4 v10" stroke-width="1.8"/>
<path d="M1421.2 921.8 v-9" stroke-width="1.8"/>
<path d="M1480.9 72.4 v10" stroke-width="1.8"/>
<path d="M1480.9 921.8 v-9" stroke-width="1.8"/>
<path d="M1540.6 72.4 v10" stroke-width="1.8"/>
<path d="M1600.3 72.4 v10" stroke-width="1.8"/>
<path d="M1660 72.4 v10" stroke-width="1.8"/>
<path d="M1062.7 780.23 h9.5" stroke-width="1.8"/>
<path d="M1062.7 638.67 h9.5" stroke-width="1.8"/>
<path d="M1062.7 497.1 h9.5" stroke-width="1.8"/>
<path d="M1062.7 355.53 h9.5" stroke-width="1.8"/>
<path d="M1062.7 213.97 h9.5" stroke-width="1.8"/>
</g>
<path d="M1748.9 130.5 V560" stroke="#333" stroke-width="1.4" fill="none"/>
<path d="M1742 328.6 h7" stroke="#333" stroke-width="1.6" fill="none"/>
<text transform="translate(1026.44 933.3)" font-size="45.3" fill="#1a1a1a">0</text>
<text transform="translate(994.11 791.73) scale(0.97 1)" font-size="45.3" fill="#1a1a1a">0.5</text>
<text transform="translate(1027.57 650.17)" font-size="45.3" fill="#1a1a1a">1</text>
<text transform="translate(994.11 508.6) scale(0.97 1)" font-size="45.3" fill="#1a1a1a">1.5</text>
<text transform="translate(1027.34 367.03)" font-size="45.3" fill="#1a1a1a">2</text>
<text transform="translate(994.11 225.47) scale(0.97 1)" font-size="45.3" fill="#1a1a1a">2.5</text>
<text transform="translate(1026.44 83.9)" font-size="45.3" fill="#1a1a1a">3</text>
<text transform="translate(1051.67 972.3)" font-size="45.3" fill="#1a1a1a">1</text>
<text transform="translate(1111.38 972.3)" font-size="45.3" fill="#1a1a1a">5</text>
<text transform="translate(1171.08 972.3)" font-size="45.3" fill="#1a1a1a">9</text>
<text transform="translate(1220.47 972.3) scale(0.955 1)" font-size="45.3" fill="#1a1a1a">13</text>
<text transform="translate(1280.17 972.3) scale(0.955 1)" font-size="45.3" fill="#1a1a1a">17</text>
<text transform="translate(1339.87 972.3) scale(0.955 1)" font-size="45.3" fill="#1a1a1a">21</text>
<text transform="translate(1399.57 972.3) scale(0.955 1)" font-size="45.3" fill="#1a1a1a">25</text>
<text transform="translate(1459.27 972.3) scale(0.955 1)" font-size="45.3" fill="#1a1a1a">29</text>
<text transform="translate(1518.97 972.3) scale(0.955 1)" font-size="45.3" fill="#1a1a1a">33</text>
<text transform="translate(1578.67 972.3) scale(0.955 1)" font-size="45.3" fill="#1a1a1a">37</text>
<text transform="translate(1638.37 972.3) scale(0.955 1)" font-size="45.3" fill="#1a1a1a">41</text>
<text transform="translate(1727.92 972.3) scale(0.955 1)" font-size="45.3" fill="#1a1a1a">47</text>
<text transform="translate(1347.99 1029.6) scale(1.0391 1)" font-size="50.5" fill="#1a1a1a">Stage</text>
<text transform="translate(969.8 695.75) rotate(-90) scale(0.9147 1)" font-size="50.5" fill="#1a1a1a">Energy</text>
<text transform="translate(969.8 543.45) rotate(-90) scale(1.0412 1)" font-size="50.5" fill="#1a1a1a">release</text>
<text transform="translate(969.8 381.47) rotate(-90) scale(1.1623 1)" font-size="50.5" fill="#1a1a1a">rate</text>
<text transform="translate(1065.64 62.8) scale(1.0024 1)" font-size="50" fill="#1a1a1a">×</text>
<text transform="translate(1098.01 57.5) scale(0.9332 1)" font-size="45.3" fill="#1a1a1a">10</text>
<text transform="translate(1141.59 44.2) scale(1.2224 1)" font-size="31" fill="#1a1a1a">−</text>
<text transform="translate(1164.27 41.7) scale(0.9206 1)" font-size="31.2" fill="#1a1a1a">4</text>
<polyline points="1272,921.7 1397,921.7" fill="none" stroke="#c2525a" stroke-width="4"/>
<polyline points="1397,921.7 1539,921.2 1556,877 1573,923.2 1715.0,921.8 1721.6,630 1722.4,585" fill="none" stroke="#f80000" stroke-width="4" stroke-linejoin="miter"/>
<polyline points="1724.6,640 1729.6,345 1733.8,164.5 1738.9,340 1747.6,640 1748.6,652" fill="none" stroke="#f80000" stroke-width="2.8" stroke-linejoin="miter"/>
<path d="M1729.5 72 V88.6 M1729.5 104.8 V122.9" stroke="#000" stroke-width="5" fill="none"/>
<path d="M1729.5 130.6 V144" stroke="#000" stroke-width="3.6" fill="none"/>
<path d="M1729.4 163.2 V922.8" stroke="#000" stroke-width="3.6" stroke-dasharray="19.8 21.3" fill="none"/>
<rect x="1203.8" y="106.6" width="426.8" height="628.9" fill="#fff" stroke="none"/>
<g stroke="#2a2a2a" stroke-width="1.5" fill="none">
<rect x="1203.8" y="106.6" width="426.8" height="628.9"/>
<path d="M1239.1 735.5 v-6.3"/>
<path d="M1239.1 106.6 v6.3"/>
<path d="M1274.68 735.5 v-6.3"/>
<path d="M1274.68 106.6 v6.3"/>
<path d="M1310.26 735.5 v-6.3"/>
<path d="M1310.26 106.6 v6.3"/>
<path d="M1345.84 735.5 v-6.3"/>
<path d="M1345.84 106.6 v6.3"/>
<path d="M1381.42 735.5 v-6.3"/>
<path d="M1381.42 106.6 v6.3"/>
<path d="M1417 735.5 v-6.3"/>
<path d="M1417 106.6 v6.3"/>
<path d="M1452.58 735.5 v-6.3"/>
<path d="M1452.58 106.6 v6.3"/>
<path d="M1488.16 735.5 v-6.3"/>
<path d="M1488.16 106.6 v6.3"/>
<path d="M1523.74 735.5 v-6.3"/>
<path d="M1523.74 106.6 v6.3"/>
<path d="M1559.32 735.5 v-6.3"/>
<path d="M1559.32 106.6 v6.3"/>
<path d="M1594.9 735.5 v-6.3"/>
<path d="M1594.9 106.6 v6.3"/>
<path d="M1203.8 525.87 h6"/>
<path d="M1630.6 525.87 h-6"/>
<path d="M1203.8 316.23 h6"/>
<path d="M1630.6 316.23 h-6"/>
</g>
<g id="b-heat">
<rect x="1223.2" y="127.1" width="31.8" height="5.67" fill="#ff0000"/>
<rect x="1223.2" y="131.77" width="31.8" height="5.67" fill="#0000ff"/>
<rect x="1223.2" y="136.44" width="31.8" height="5.67" fill="#ff0000"/>
<rect x="1223.2" y="141.1" width="31.8" height="15" fill="#008000"/>
<rect x="1223.2" y="155.11" width="31.8" height="5.67" fill="#0000ff"/>
<rect x="1223.2" y="159.78" width="31.8" height="5.67" fill="#008000"/>
<rect x="1223.2" y="164.44" width="31.8" height="10.34" fill="#ff0000"/>
<rect x="1223.2" y="173.78" width="31.8" height="5.67" fill="#0000ff"/>
<rect x="1223.2" y="178.45" width="31.8" height="5.67" fill="#ff0000"/>
<rect x="1223.2" y="183.12" width="31.8" height="5.67" fill="#008000"/>
<rect x="1223.2" y="187.78" width="31.8" height="5.67" fill="#ff0000"/>
<rect x="1223.2" y="192.45" width="31.8" height="10.34" fill="#0000ff"/>
<rect x="1223.2" y="201.79" width="31.8" height="5.67" fill="#ff0000"/>
<rect x="1223.2" y="206.46" width="31.8" height="5.67" fill="#0000ff"/>
<rect x="1223.2" y="211.12" width="31.8" height="5.67" fill="#008000"/>
<rect x="1223.2" y="215.79" width="31.8" height="10.34" fill="#0000ff"/>
<rect x="1223.2" y="225.13" width="31.8" height="5.67" fill="#ff0000"/>
<rect x="1223.2" y="229.8" width="31.8" height="10.34" fill="#0000ff"/>
<rect x="1223.2" y="239.13" width="31.8" height="5.67" fill="#008000"/>
<rect x="1223.2" y="243.8" width="31.8" height="5.67" fill="#0000ff"/>
<rect x="1223.2" y="248.47" width="31.8" height="5.67" fill="#ff0000"/>
<rect x="1223.2" y="253.14" width="31.8" height="5.67" fill="#0000ff"/>
<rect x="1223.2" y="257.8" width="31.8" height="5.67" fill="#008000"/>
<rect x="1223.2" y="262.47" width="31.8" height="15" fill="#0000ff"/>
<rect x="1223.2" y="276.48" width="31.8" height="5.67" fill="#008000"/>
<rect x="1223.2" y="281.14" width="31.8" height="10.34" fill="#0000ff"/>
<rect x="1223.2" y="290.48" width="31.8" height="5.67" fill="#ff0000"/>
<rect x="1223.2" y="295.15" width="31.8" height="10.34" fill="#0000ff"/>
<rect x="1223.2" y="304.48" width="31.8" height="5.67" fill="#008000"/>
<rect x="1223.2" y="309.15" width="31.8" height="10.34" fill="#0000ff"/>
<rect x="1223.2" y="318.49" width="31.8" height="5.67" fill="#008000"/>
<rect x="1223.2" y="323.16" width="31.8" height="10.34" fill="#0000ff"/>
<rect x="1223.2" y="332.49" width="31.8" height="10.34" fill="#ff0000"/>
<rect x="1223.2" y="341.83" width="31.8" height="5.67" fill="#008000"/>
<rect x="1223.2" y="346.5" width="31.8" height="10.34" fill="#0000ff"/>
<rect x="1223.2" y="355.83" width="31.8" height="10.34" fill="#008000"/>
<rect x="1223.2" y="365.17" width="31.8" height="5.67" fill="#0000ff"/>
<rect x="1223.2" y="369.84" width="31.8" height="5.67" fill="#ff0000"/>
<rect x="1223.2" y="374.5" width="31.8" height="5.67" fill="#0000ff"/>
<rect x="1223.2" y="379.17" width="31.8" height="5.67" fill="#008000"/>
<rect x="1223.2" y="383.84" width="31.8" height="10.34" fill="#0000ff"/>
<rect x="1223.2" y="393.18" width="31.8" height="5.67" fill="#008000"/>
<rect x="1223.2" y="397.84" width="31.8" height="10.34" fill="#0000ff"/>
<rect x="1223.2" y="407.18" width="31.8" height="5.67" fill="#008000"/>
<rect x="1223.2" y="411.85" width="31.8" height="19.67" fill="#0000ff"/>
<rect x="1223.2" y="430.52" width="31.8" height="10.34" fill="#008000"/>
<rect x="1223.2" y="439.86" width="31.8" height="10.34" fill="#0000ff"/>
<rect x="1223.2" y="449.19" width="31.8" height="5.67" fill="#008000"/>
<rect x="1223.2" y="453.86" width="31.8" height="15" fill="#0000ff"/>
<rect x="1223.2" y="467.86" width="31.8" height="5.67" fill="#008000"/>
<rect x="1223.2" y="472.53" width="31.8" height="10.34" fill="#0000ff"/>
<rect x="1223.2" y="481.87" width="31.8" height="15" fill="#008000"/>
<rect x="1223.2" y="495.87" width="31.8" height="19.67" fill="#0000ff"/>
<rect x="1223.2" y="514.54" width="31.8" height="15" fill="#008000"/>
<rect x="1223.2" y="528.55" width="31.8" height="5.67" fill="#0000ff"/>
<rect x="1223.2" y="533.22" width="31.8" height="5.67" fill="#008000"/>
<rect x="1223.2" y="537.88" width="31.8" height="5.67" fill="#0000ff"/>
<rect x="1223.2" y="542.55" width="31.8" height="5.67" fill="#008000"/>
<rect x="1223.2" y="547.22" width="31.8" height="61.68" fill="#0000ff"/>
<rect x="1223.2" y="607.9" width="31.8" height="5.67" fill="#008000"/>
<rect x="1223.2" y="612.57" width="31.8" height="10.34" fill="#0000ff"/>
<rect x="1223.2" y="621.91" width="31.8" height="5.67" fill="#008000"/>
<rect x="1223.2" y="626.58" width="31.8" height="47.68" fill="#0000ff"/>
<rect x="1223.2" y="673.26" width="31.8" height="5.67" fill="#008000"/>
<rect x="1223.2" y="677.92" width="31.8" height="5.67" fill="#0000ff"/>
<rect x="1223.2" y="682.59" width="31.8" height="5.67" fill="#008000"/>
<rect x="1223.2" y="687.26" width="31.8" height="19.67" fill="#0000ff"/>
<rect x="1223.2" y="705.93" width="31.8" height="10.34" fill="#008000"/>
<rect x="1223.2" y="715.27" width="31.8" height="18.67" fill="#0000ff"/>
<rect x="1258.78" y="127.1" width="31.8" height="5.67" fill="#ff0000"/>
<rect x="1258.78" y="131.77" width="31.8" height="5.67" fill="#0000ff"/>
<rect x="1258.78" y="136.44" width="31.8" height="5.67" fill="#ff0000"/>
<rect x="1258.78" y="141.1" width="31.8" height="15" fill="#008000"/>
<rect x="1258.78" y="155.11" width="31.8" height="5.67" fill="#0000ff"/>
<rect x="1258.78" y="159.78" width="31.8" height="5.67" fill="#008000"/>
<rect x="1258.78" y="164.44" width="31.8" height="5.67" fill="#0000ff"/>
<rect x="1258.78" y="169.11" width="31.8" height="5.67" fill="#ff0000"/>
<rect x="1258.78" y="173.78" width="31.8" height="5.67" fill="#0000ff"/>
<rect x="1258.78" y="178.45" width="31.8" height="5.67" fill="#ff0000"/>
<rect x="1258.78" y="183.12" width="31.8" height="5.67" fill="#008000"/>
<rect x="1258.78" y="187.78" width="31.8" height="5.67" fill="#ff0000"/>
<rect x="1258.78" y="192.45" width="31.8" height="10.34" fill="#0000ff"/>
<rect x="1258.78" y="201.79" width="31.8" height="5.67" fill="#ff0000"/>
<rect x="1258.78" y="206.46" width="31.8" height="5.67" fill="#0000ff"/>
<rect x="1258.78" y="211.12" width="31.8" height="5.67" fill="#008000"/>
<rect x="1258.78" y="215.79" width="31.8" height="10.34" fill="#0000ff"/>
<rect x="1258.78" y="225.13" width="31.8" height="5.67" fill="#ff0000"/>
<rect x="1258.78" y="229.8" width="31.8" height="10.34" fill="#0000ff"/>
<rect x="1258.78" y="239.13" width="31.8" height="5.67" fill="#008000"/>
<rect x="1258.78" y="243.8" width="31.8" height="5.67" fill="#0000ff"/>
<rect x="1258.78" y="248.47" width="31.8" height="5.67" fill="#ff0000"/>
<rect x="1258.78" y="253.14" width="31.8" height="5.67" fill="#0000ff"/>
<rect x="1258.78" y="257.8" width="31.8" height="5.67" fill="#008000"/>
<rect x="1258.78" y="262.47" width="31.8" height="15" fill="#0000ff"/>
<rect x="1258.78" y="276.48" width="31.8" height="5.67" fill="#008000"/>
<rect x="1258.78" y="281.14" width="31.8" height="10.34" fill="#0000ff"/>
<rect x="1258.78" y="290.48" width="31.8" height="5.67" fill="#ff0000"/>
<rect x="1258.78" y="295.15" width="31.8" height="10.34" fill="#0000ff"/>
<rect x="1258.78" y="304.48" width="31.8" height="5.67" fill="#008000"/>
<rect x="1258.78" y="309.15" width="31.8" height="10.34" fill="#0000ff"/>
<rect x="1258.78" y="318.49" width="31.8" height="5.67" fill="#008000"/>
<rect x="1258.78" y="323.16" width="31.8" height="10.34" fill="#0000ff"/>
<rect x="1258.78" y="332.49" width="31.8" height="10.34" fill="#ff0000"/>
<rect x="1258.78" y="341.83" width="31.8" height="5.67" fill="#008000"/>
<rect x="1258.78" y="346.5" width="31.8" height="15" fill="#0000ff"/>
<rect x="1258.78" y="360.5" width="31.8" height="5.67" fill="#008000"/>
<rect x="1258.78" y="365.17" width="31.8" height="5.67" fill="#0000ff"/>
<rect x="1258.78" y="369.84" width="31.8" height="5.67" fill="#ff0000"/>
<rect x="1258.78" y="374.5" width="31.8" height="5.67" fill="#0000ff"/>
<rect x="1258.78" y="379.17" width="31.8" height="10.34" fill="#008000"/>
<rect x="1258.78" y="388.51" width="31.8" height="5.67" fill="#0000ff"/>
<rect x="1258.78" y="393.18" width="31.8" height="5.67" fill="#008000"/>
<rect x="1258.78" y="397.84" width="31.8" height="10.34" fill="#0000ff"/>
<rect x="1258.78" y="407.18" width="31.8" height="5.67" fill="#008000"/>
<rect x="1258.78" y="411.85" width="31.8" height="19.67" fill="#0000ff"/>
<rect x="1258.78" y="430.52" width="31.8" height="10.34" fill="#008000"/>
<rect x="1258.78" y="439.86" width="31.8" height="10.34" fill="#0000ff"/>
<rect x="1258.78" y="449.19" width="31.8" height="5.67" fill="#008000"/>
<rect x="1258.78" y="453.86" width="31.8" height="15" fill="#0000ff"/>
<rect x="1258.78" y="467.86" width="31.8" height="5.67" fill="#008000"/>
<rect x="1258.78" y="472.53" width="31.8" height="10.34" fill="#0000ff"/>
<rect x="1258.78" y="481.87" width="31.8" height="15" fill="#008000"/>
<rect x="1258.78" y="495.87" width="31.8" height="19.67" fill="#0000ff"/>
<rect x="1258.78" y="514.54" width="31.8" height="15" fill="#008000"/>
<rect x="1258.78" y="528.55" width="31.8" height="5.67" fill="#0000ff"/>
<rect x="1258.78" y="533.22" width="31.8" height="5.67" fill="#008000"/>
<rect x="1258.78" y="537.88" width="31.8" height="71.02" fill="#0000ff"/>
<rect x="1258.78" y="607.9" width="31.8" height="5.67" fill="#008000"/>
<rect x="1258.78" y="612.57" width="31.8" height="10.34" fill="#0000ff"/>
<rect x="1258.78" y="621.91" width="31.8" height="5.67" fill="#008000"/>
<rect x="1258.78" y="626.58" width="31.8" height="47.68" fill="#0000ff"/>
<rect x="1258.78" y="673.26" width="31.8" height="5.67" fill="#008000"/>
<rect x="1258.78" y="677.92" width="31.8" height="5.67" fill="#0000ff"/>
<rect x="1258.78" y="682.59" width="31.8" height="5.67" fill="#008000"/>
<rect x="1258.78" y="687.26" width="31.8" height="19.67" fill="#0000ff"/>
<rect x="1258.78" y="705.93" width="31.8" height="10.34" fill="#008000"/>
<rect x="1258.78" y="715.27" width="31.8" height="18.67" fill="#0000ff"/>
<rect x="1294.36" y="127.1" width="31.8" height="5.67" fill="#ff0000"/>
<rect x="1294.36" y="131.77" width="31.8" height="5.67" fill="#0000ff"/>
<rect x="1294.36" y="136.44" width="31.8" height="5.67" fill="#ff0000"/>
<rect x="1294.36" y="141.1" width="31.8" height="15" fill="#008000"/>
<rect x="1294.36" y="155.11" width="31.8" height="5.67" fill="#0000ff"/>
<rect x="1294.36" y="159.78" width="31.8" height="5.67" fill="#008000"/>
<rect x="1294.36" y="164.44" width="31.8" height="5.67" fill="#0000ff"/>
<rect x="1294.36" y="169.11" width="31.8" height="5.67" fill="#ff0000"/>
<rect x="1294.36" y="173.78" width="31.8" height="5.67" fill="#0000ff"/>
<rect x="1294.36" y="178.45" width="31.8" height="5.67" fill="#ff0000"/>
<rect x="1294.36" y="183.12" width="31.8" height="5.67" fill="#008000"/>
<rect x="1294.36" y="187.78" width="31.8" height="5.67" fill="#ff0000"/>
<rect x="1294.36" y="192.45" width="31.8" height="10.34" fill="#0000ff"/>
<rect x="1294.36" y="201.79" width="31.8" height="5.67" fill="#ff0000"/>
<rect x="1294.36" y="206.46" width="31.8" height="5.67" fill="#0000ff"/>
<rect x="1294.36" y="211.12" width="31.8" height="5.67" fill="#008000"/>
<rect x="1294.36" y="215.79" width="31.8" height="10.34" fill="#0000ff"/>
<rect x="1294.36" y="225.13" width="31.8" height="5.67" fill="#ff0000"/>
<rect x="1294.36" y="229.8" width="31.8" height="10.34" fill="#0000ff"/>
<rect x="1294.36" y="239.13" width="31.8" height="5.67" fill="#008000"/>
<rect x="1294.36" y="243.8" width="31.8" height="5.67" fill="#0000ff"/>
<rect x="1294.36" y="248.47" width="31.8" height="5.67" fill="#ff0000"/>
<rect x="1294.36" y="253.14" width="31.8" height="5.67" fill="#0000ff"/>
<rect x="1294.36" y="257.8" width="31.8" height="5.67" fill="#008000"/>
<rect x="1294.36" y="262.47" width="31.8" height="15" fill="#0000ff"/>
<rect x="1294.36" y="276.48" width="31.8" height="5.67" fill="#008000"/>
<rect x="1294.36" y="281.14" width="31.8" height="10.34" fill="#0000ff"/>
<rect x="1294.36" y="290.48" width="31.8" height="5.67" fill="#ff0000"/>
<rect x="1294.36" y="295.15" width="31.8" height="10.34" fill="#0000ff"/>
<rect x="1294.36" y="304.48" width="31.8" height="5.67" fill="#008000"/>
<rect x="1294.36" y="309.15" width="31.8" height="10.34" fill="#0000ff"/>
<rect x="1294.36" y="318.49" width="31.8" height="5.67" fill="#008000"/>
<rect x="1294.36" y="323.16" width="31.8" height="10.34" fill="#0000ff"/>
<rect x="1294.36" y="332.49" width="31.8" height="10.34" fill="#ff0000"/>
<rect x="1294.36" y="341.83" width="31.8" height="5.67" fill="#008000"/>
<rect x="1294.36" y="346.5" width="31.8" height="15" fill="#0000ff"/>
<rect x="1294.36" y="360.5" width="31.8" height="5.67" fill="#008000"/>
<rect x="1294.36" y="365.17" width="31.8" height="5.67" fill="#0000ff"/>
<rect x="1294.36" y="369.84" width="31.8" height="5.67" fill="#ff0000"/>
<rect x="1294.36" y="374.5" width="31.8" height="5.67" fill="#0000ff"/>
<rect x="1294.36" y="379.17" width="31.8" height="10.34" fill="#008000"/>
<rect x="1294.36" y="388.51" width="31.8" height="5.67" fill="#0000ff"/>
<rect x="1294.36" y="393.18" width="31.8" height="5.67" fill="#008000"/>
<rect x="1294.36" y="397.84" width="31.8" height="10.34" fill="#0000ff"/>
<rect x="1294.36" y="407.18" width="31.8" height="5.67" fill="#008000"/>
<rect x="1294.36" y="411.85" width="31.8" height="19.67" fill="#0000ff"/>
<rect x="1294.36" y="430.52" width="31.8" height="10.34" fill="#008000"/>
<rect x="1294.36" y="439.86" width="31.8" height="10.34" fill="#0000ff"/>
<rect x="1294.36" y="449.19" width="31.8" height="5.67" fill="#008000"/>
<rect x="1294.36" y="453.86" width="31.8" height="15" fill="#0000ff"/>
<rect x="1294.36" y="467.86" width="31.8" height="5.67" fill="#008000"/>
<rect x="1294.36" y="472.53" width="31.8" height="10.34" fill="#0000ff"/>
<rect x="1294.36" y="481.87" width="31.8" height="15" fill="#008000"/>
<rect x="1294.36" y="495.87" width="31.8" height="19.67" fill="#0000ff"/>
<rect x="1294.36" y="514.54" width="31.8" height="15" fill="#008000"/>
<rect x="1294.36" y="528.55" width="31.8" height="5.67" fill="#0000ff"/>
<rect x="1294.36" y="533.22" width="31.8" height="5.67" fill="#008000"/>
<rect x="1294.36" y="537.88" width="31.8" height="71.02" fill="#0000ff"/>
<rect x="1294.36" y="607.9" width="31.8" height="5.67" fill="#008000"/>
<rect x="1294.36" y="612.57" width="31.8" height="10.34" fill="#0000ff"/>
<rect x="1294.36" y="621.91" width="31.8" height="5.67" fill="#008000"/>
<rect x="1294.36" y="626.58" width="31.8" height="47.68" fill="#0000ff"/>
<rect x="1294.36" y="673.26" width="31.8" height="5.67" fill="#008000"/>
<rect x="1294.36" y="677.92" width="31.8" height="5.67" fill="#0000ff"/>
<rect x="1294.36" y="682.59" width="31.8" height="5.67" fill="#008000"/>
<rect x="1294.36" y="687.26" width="31.8" height="19.67" fill="#0000ff"/>
<rect x="1294.36" y="705.93" width="31.8" height="10.34" fill="#008000"/>
<rect x="1294.36" y="715.27" width="31.8" height="18.67" fill="#0000ff"/>
<rect x="1329.94" y="127.1" width="31.8" height="5.67" fill="#ff0000"/>
<rect x="1329.94" y="131.77" width="31.8" height="5.67" fill="#0000ff"/>
<rect x="1329.94" y="136.44" width="31.8" height="5.67" fill="#ff0000"/>
<rect x="1329.94" y="141.1" width="31.8" height="15" fill="#008000"/>
<rect x="1329.94" y="155.11" width="31.8" height="5.67" fill="#0000ff"/>
<rect x="1329.94" y="159.78" width="31.8" height="5.67" fill="#008000"/>
<rect x="1329.94" y="164.44" width="31.8" height="5.67" fill="#0000ff"/>
<rect x="1329.94" y="169.11" width="31.8" height="5.67" fill="#ff0000"/>
<rect x="1329.94" y="173.78" width="31.8" height="5.67" fill="#0000ff"/>
<rect x="1329.94" y="178.45" width="31.8" height="5.67" fill="#ff0000"/>
<rect x="1329.94" y="183.12" width="31.8" height="5.67" fill="#008000"/>
<rect x="1329.94" y="187.78" width="31.8" height="5.67" fill="#ff0000"/>
<rect x="1329.94" y="192.45" width="31.8" height="10.34" fill="#0000ff"/>
<rect x="1329.94" y="201.79" width="31.8" height="5.67" fill="#ff0000"/>
<rect x="1329.94" y="206.46" width="31.8" height="5.67" fill="#0000ff"/>
<rect x="1329.94" y="211.12" width="31.8" height="5.67" fill="#008000"/>
<rect x="1329.94" y="215.79" width="31.8" height="10.34" fill="#0000ff"/>
<rect x="1329.94" y="225.13" width="31.8" height="5.67" fill="#ff0000"/>
<rect x="1329.94" y="229.8" width="31.8" height="10.34" fill="#0000ff"/>
<rect x="1329.94" y="239.13" width="31.8" height="5.67" fill="#008000"/>
<rect x="1329.94" y="243.8" width="31.8" height="5.67" fill="#0000ff"/>
<rect x="1329.94" y="248.47" width="31.8" height="5.67" fill="#ff0000"/>
<rect x="1329.94" y="253.14" width="31.8" height="5.67" fill="#0000ff"/>
<rect x="1329.94" y="257.8" width="31.8" height="5.67" fill="#008000"/>
<rect x="1329.94" y="262.47" width="31.8" height="15" fill="#0000ff"/>
<rect x="1329.94" y="276.48" width="31.8" height="5.67" fill="#008000"/>
<rect x="1329.94" y="281.14" width="31.8" height="10.34" fill="#0000ff"/>
<rect x="1329.94" y="290.48" width="31.8" height="5.67" fill="#ff0000"/>
<rect x="1329.94" y="295.15" width="31.8" height="10.34" fill="#0000ff"/>
<rect x="1329.94" y="304.48" width="31.8" height="5.67" fill="#008000"/>
<rect x="1329.94" y="309.15" width="31.8" height="10.34" fill="#0000ff"/>
<rect x="1329.94" y="318.49" width="31.8" height="5.67" fill="#008000"/>
<rect x="1329.94" y="323.16" width="31.8" height="10.34" fill="#0000ff"/>
<rect x="1329.94" y="332.49" width="31.8" height="10.34" fill="#ff0000"/>
<rect x="1329.94" y="341.83" width="31.8" height="5.67" fill="#008000"/>
<rect x="1329.94" y="346.5" width="31.8" height="15" fill="#0000ff"/>
<rect x="1329.94" y="360.5" width="31.8" height="5.67" fill="#008000"/>
<rect x="1329.94" y="365.17" width="31.8" height="5.67" fill="#0000ff"/>
<rect x="1329.94" y="369.84" width="31.8" height="5.67" fill="#ff0000"/>
<rect x="1329.94" y="374.5" width="31.8" height="5.67" fill="#0000ff"/>
<rect x="1329.94" y="379.17" width="31.8" height="10.34" fill="#008000"/>
<rect x="1329.94" y="388.51" width="31.8" height="5.67" fill="#0000ff"/>
<rect x="1329.94" y="393.18" width="31.8" height="5.67" fill="#008000"/>
<rect x="1329.94" y="397.84" width="31.8" height="10.34" fill="#0000ff"/>
<rect x="1329.94" y="407.18" width="31.8" height="5.67" fill="#008000"/>
<rect x="1329.94" y="411.85" width="31.8" height="19.67" fill="#0000ff"/>
<rect x="1329.94" y="430.52" width="31.8" height="10.34" fill="#008000"/>
<rect x="1329.94" y="439.86" width="31.8" height="10.34" fill="#0000ff"/>
<rect x="1329.94" y="449.19" width="31.8" height="5.67" fill="#008000"/>
<rect x="1329.94" y="453.86" width="31.8" height="15" fill="#0000ff"/>
<rect x="1329.94" y="467.86" width="31.8" height="5.67" fill="#008000"/>
<rect x="1329.94" y="472.53" width="31.8" height="10.34" fill="#0000ff"/>
<rect x="1329.94" y="481.87" width="31.8" height="15" fill="#008000"/>
<rect x="1329.94" y="495.87" width="31.8" height="19.67" fill="#0000ff"/>
<rect x="1329.94" y="514.54" width="31.8" height="15" fill="#008000"/>
<rect x="1329.94" y="528.55" width="31.8" height="5.67" fill="#0000ff"/>
<rect x="1329.94" y="533.22" width="31.8" height="5.67" fill="#008000"/>
<rect x="1329.94" y="537.88" width="31.8" height="71.02" fill="#0000ff"/>
<rect x="1329.94" y="607.9" width="31.8" height="5.67" fill="#008000"/>
<rect x="1329.94" y="612.57" width="31.8" height="10.34" fill="#0000ff"/>
<rect x="1329.94" y="621.91" width="31.8" height="5.67" fill="#008000"/>
<rect x="1329.94" y="626.58" width="31.8" height="47.68" fill="#0000ff"/>
<rect x="1329.94" y="673.26" width="31.8" height="5.67" fill="#008000"/>
<rect x="1329.94" y="677.92" width="31.8" height="5.67" fill="#0000ff"/>
<rect x="1329.94" y="682.59" width="31.8" height="5.67" fill="#008000"/>
<rect x="1329.94" y="687.26" width="31.8" height="19.67" fill="#0000ff"/>
<rect x="1329.94" y="705.93" width="31.8" height="10.34" fill="#008000"/>
<rect x="1329.94" y="715.27" width="31.8" height="18.67" fill="#0000ff"/>
<rect x="1365.52" y="127.1" width="31.8" height="5.67" fill="#ff0000"/>
<rect x="1365.52" y="131.77" width="31.8" height="5.67" fill="#0000ff"/>
<rect x="1365.52" y="136.44" width="31.8" height="5.67" fill="#ff0000"/>
<rect x="1365.52" y="141.1" width="31.8" height="15" fill="#008000"/>
<rect x="1365.52" y="155.11" width="31.8" height="5.67" fill="#0000ff"/>
<rect x="1365.52" y="159.78" width="31.8" height="5.67" fill="#008000"/>
<rect x="1365.52" y="164.44" width="31.8" height="5.67" fill="#0000ff"/>
<rect x="1365.52" y="169.11" width="31.8" height="5.67" fill="#ff0000"/>
<rect x="1365.52" y="173.78" width="31.8" height="5.67" fill="#0000ff"/>
<rect x="1365.52" y="178.45" width="31.8" height="5.67" fill="#ff0000"/>
<rect x="1365.52" y="183.12" width="31.8" height="5.67" fill="#008000"/>
<rect x="1365.52" y="187.78" width="31.8" height="5.67" fill="#ff0000"/>
<rect x="1365.52" y="192.45" width="31.8" height="10.34" fill="#0000ff"/>
<rect x="1365.52" y="201.79" width="31.8" height="5.67" fill="#ff0000"/>
<rect x="1365.52" y="206.46" width="31.8" height="5.67" fill="#0000ff"/>
<rect x="1365.52" y="211.12" width="31.8" height="5.67" fill="#008000"/>
<rect x="1365.52" y="215.79" width="31.8" height="10.34" fill="#0000ff"/>
<rect x="1365.52" y="225.13" width="31.8" height="5.67" fill="#ff0000"/>
<rect x="1365.52" y="229.8" width="31.8" height="10.34" fill="#0000ff"/>
<rect x="1365.52" y="239.13" width="31.8" height="5.67" fill="#008000"/>
<rect x="1365.52" y="243.8" width="31.8" height="5.67" fill="#0000ff"/>
<rect x="1365.52" y="248.47" width="31.8" height="5.67" fill="#ff0000"/>
<rect x="1365.52" y="253.14" width="31.8" height="5.67" fill="#0000ff"/>
<rect x="1365.52" y="257.8" width="31.8" height="5.67" fill="#008000"/>
<rect x="1365.52" y="262.47" width="31.8" height="15" fill="#0000ff"/>
<rect x="1365.52" y="276.48" width="31.8" height="5.67" fill="#008000"/>
<rect x="1365.52" y="281.14" width="31.8" height="10.34" fill="#0000ff"/>
<rect x="1365.52" y="290.48" width="31.8" height="5.67" fill="#ff0000"/>
<rect x="1365.52" y="295.15" width="31.8" height="10.34" fill="#0000ff"/>
<rect x="1365.52" y="304.48" width="31.8" height="5.67" fill="#008000"/>
<rect x="1365.52" y="309.15" width="31.8" height="10.34" fill="#0000ff"/>
<rect x="1365.52" y="318.49" width="31.8" height="5.67" fill="#008000"/>
<rect x="1365.52" y="323.16" width="31.8" height="10.34" fill="#0000ff"/>
<rect x="1365.52" y="332.49" width="31.8" height="10.34" fill="#ff0000"/>
<rect x="1365.52" y="341.83" width="31.8" height="5.67" fill="#008000"/>
<rect x="1365.52" y="346.5" width="31.8" height="15" fill="#0000ff"/>
<rect x="1365.52" y="360.5" width="31.8" height="5.67" fill="#008000"/>
<rect x="1365.52" y="365.17" width="31.8" height="5.67" fill="#0000ff"/>
<rect x="1365.52" y="369.84" width="31.8" height="5.67" fill="#ff0000"/>
<rect x="1365.52" y="374.5" width="31.8" height="5.67" fill="#0000ff"/>
<rect x="1365.52" y="379.17" width="31.8" height="10.34" fill="#008000"/>
<rect x="1365.52" y="388.51" width="31.8" height="5.67" fill="#0000ff"/>
<rect x="1365.52" y="393.18" width="31.8" height="5.67" fill="#008000"/>
<rect x="1365.52" y="397.84" width="31.8" height="10.34" fill="#0000ff"/>
<rect x="1365.52" y="407.18" width="31.8" height="5.67" fill="#008000"/>
<rect x="1365.52" y="411.85" width="31.8" height="19.67" fill="#0000ff"/>
<rect x="1365.52" y="430.52" width="31.8" height="10.34" fill="#008000"/>
<rect x="1365.52" y="439.86" width="31.8" height="10.34" fill="#0000ff"/>
<rect x="1365.52" y="449.19" width="31.8" height="5.67" fill="#008000"/>
<rect x="1365.52" y="453.86" width="31.8" height="15" fill="#0000ff"/>
<rect x="1365.52" y="467.86" width="31.8" height="5.67" fill="#008000"/>
<rect x="1365.52" y="472.53" width="31.8" height="10.34" fill="#0000ff"/>
<rect x="1365.52" y="481.87" width="31.8" height="15" fill="#008000"/>
<rect x="1365.52" y="495.87" width="31.8" height="19.67" fill="#0000ff"/>
<rect x="1365.52" y="514.54" width="31.8" height="15" fill="#008000"/>
<rect x="1365.52" y="528.55" width="31.8" height="5.67" fill="#0000ff"/>
<rect x="1365.52" y="533.22" width="31.8" height="5.67" fill="#008000"/>
<rect x="1365.52" y="537.88" width="31.8" height="71.02" fill="#0000ff"/>
<rect x="1365.52" y="607.9" width="31.8" height="5.67" fill="#008000"/>
<rect x="1365.52" y="612.57" width="31.8" height="10.34" fill="#0000ff"/>
<rect x="1365.52" y="621.91" width="31.8" height="5.67" fill="#008000"/>
<rect x="1365.52" y="626.58" width="31.8" height="47.68" fill="#0000ff"/>
<rect x="1365.52" y="673.26" width="31.8" height="5.67" fill="#008000"/>
<rect x="1365.52" y="677.92" width="31.8" height="5.67" fill="#0000ff"/>
<rect x="1365.52" y="682.59" width="31.8" height="5.67" fill="#008000"/>
<rect x="1365.52" y="687.26" width="31.8" height="19.67" fill="#0000ff"/>
<rect x="1365.52" y="705.93" width="31.8" height="10.34" fill="#008000"/>
<rect x="1365.52" y="715.27" width="31.8" height="18.67" fill="#0000ff"/>
<rect x="1401.1" y="127.1" width="31.8" height="5.67" fill="#ff0000"/>
<rect x="1401.1" y="131.77" width="31.8" height="5.67" fill="#0000ff"/>
<rect x="1401.1" y="136.44" width="31.8" height="5.67" fill="#ff0000"/>
<rect x="1401.1" y="141.1" width="31.8" height="15" fill="#008000"/>
<rect x="1401.1" y="155.11" width="31.8" height="5.67" fill="#0000ff"/>
<rect x="1401.1" y="159.78" width="31.8" height="5.67" fill="#008000"/>
<rect x="1401.1" y="164.44" width="31.8" height="5.67" fill="#0000ff"/>
<rect x="1401.1" y="169.11" width="31.8" height="5.67" fill="#ff0000"/>
<rect x="1401.1" y="173.78" width="31.8" height="5.67" fill="#0000ff"/>
<rect x="1401.1" y="178.45" width="31.8" height="5.67" fill="#ff0000"/>
<rect x="1401.1" y="183.12" width="31.8" height="5.67" fill="#008000"/>
<rect x="1401.1" y="187.78" width="31.8" height="5.67" fill="#ff0000"/>
<rect x="1401.1" y="192.45" width="31.8" height="10.34" fill="#0000ff"/>
<rect x="1401.1" y="201.79" width="31.8" height="5.67" fill="#ff0000"/>
<rect x="1401.1" y="206.46" width="31.8" height="5.67" fill="#0000ff"/>
<rect x="1401.1" y="211.12" width="31.8" height="5.67" fill="#008000"/>
<rect x="1401.1" y="215.79" width="31.8" height="10.34" fill="#0000ff"/>
<rect x="1401.1" y="225.13" width="31.8" height="5.67" fill="#ff0000"/>
<rect x="1401.1" y="229.8" width="31.8" height="10.34" fill="#0000ff"/>
<rect x="1401.1" y="239.13" width="31.8" height="5.67" fill="#008000"/>
<rect x="1401.1" y="243.8" width="31.8" height="5.67" fill="#0000ff"/>
<rect x="1401.1" y="248.47" width="31.8" height="5.67" fill="#ff0000"/>
<rect x="1401.1" y="253.14" width="31.8" height="5.67" fill="#0000ff"/>
<rect x="1401.1" y="257.8" width="31.8" height="5.67" fill="#008000"/>
<rect x="1401.1" y="262.47" width="31.8" height="15" fill="#0000ff"/>
<rect x="1401.1" y="276.48" width="31.8" height="5.67" fill="#008000"/>
<rect x="1401.1" y="281.14" width="31.8" height="10.34" fill="#0000ff"/>
<rect x="1401.1" y="290.48" width="31.8" height="5.67" fill="#ff0000"/>
<rect x="1401.1" y="295.15" width="31.8" height="10.34" fill="#0000ff"/>
<rect x="1401.1" y="304.48" width="31.8" height="5.67" fill="#008000"/>
<rect x="1401.1" y="309.15" width="31.8" height="10.34" fill="#0000ff"/>
<rect x="1401.1" y="318.49" width="31.8" height="5.67" fill="#008000"/>
<rect x="1401.1" y="323.16" width="31.8" height="10.34" fill="#0000ff"/>
<rect x="1401.1" y="332.49" width="31.8" height="10.34" fill="#ff0000"/>
<rect x="1401.1" y="341.83" width="31.8" height="5.67" fill="#008000"/>
<rect x="1401.1" y="346.5" width="31.8" height="10.34" fill="#0000ff"/>
<rect x="1401.1" y="355.83" width="31.8" height="10.34" fill="#008000"/>
<rect x="1401.1" y="365.17" width="31.8" height="5.67" fill="#0000ff"/>
<rect x="1401.1" y="369.84" width="31.8" height="5.67" fill="#ff0000"/>
<rect x="1401.1" y="374.5" width="31.8" height="5.67" fill="#0000ff"/>
<rect x="1401.1" y="379.17" width="31.8" height="10.34" fill="#008000"/>
<rect x="1401.1" y="388.51" width="31.8" height="5.67" fill="#0000ff"/>
<rect x="1401.1" y="393.18" width="31.8" height="5.67" fill="#008000"/>
<rect x="1401.1" y="397.84" width="31.8" height="10.34" fill="#0000ff"/>
<rect x="1401.1" y="407.18" width="31.8" height="5.67" fill="#008000"/>
<rect x="1401.1" y="411.85" width="31.8" height="19.67" fill="#0000ff"/>
<rect x="1401.1" y="430.52" width="31.8" height="10.34" fill="#008000"/>
<rect x="1401.1" y="439.86" width="31.8" height="10.34" fill="#0000ff"/>
<rect x="1401.1" y="449.19" width="31.8" height="5.67" fill="#008000"/>
<rect x="1401.1" y="453.86" width="31.8" height="15" fill="#0000ff"/>
<rect x="1401.1" y="467.86" width="31.8" height="5.67" fill="#008000"/>
<rect x="1401.1" y="472.53" width="31.8" height="10.34" fill="#0000ff"/>
<rect x="1401.1" y="481.87" width="31.8" height="15" fill="#008000"/>
<rect x="1401.1" y="495.87" width="31.8" height="19.67" fill="#0000ff"/>
<rect x="1401.1" y="514.54" width="31.8" height="15" fill="#008000"/>
<rect x="1401.1" y="528.55" width="31.8" height="5.67" fill="#0000ff"/>
<rect x="1401.1" y="533.22" width="31.8" height="5.67" fill="#008000"/>
<rect x="1401.1" y="537.88" width="31.8" height="5.67" fill="#0000ff"/>
<rect x="1401.1" y="542.55" width="31.8" height="5.67" fill="#008000"/>
<rect x="1401.1" y="547.22" width="31.8" height="61.68" fill="#0000ff"/>
<rect x="1401.1" y="607.9" width="31.8" height="5.67" fill="#008000"/>
<rect x="1401.1" y="612.57" width="31.8" height="10.34" fill="#0000ff"/>
<rect x="1401.1" y="621.91" width="31.8" height="5.67" fill="#008000"/>
<rect x="1401.1" y="626.58" width="31.8" height="23.34" fill="#0000ff"/>
<rect x="1401.1" y="654.58" width="31.8" height="4.67" fill="#0000ff"/>
<rect x="1401.1" y="663.92" width="31.8" height="10.34" fill="#0000ff"/>
<rect x="1401.1" y="673.26" width="31.8" height="5.67" fill="#008000"/>
<rect x="1401.1" y="677.92" width="31.8" height="5.67" fill="#0000ff"/>
<rect x="1401.1" y="682.59" width="31.8" height="5.67" fill="#008000"/>
<rect x="1401.1" y="687.26" width="31.8" height="19.67" fill="#0000ff"/>
<rect x="1401.1" y="705.93" width="31.8" height="10.34" fill="#008000"/>
<rect x="1401.1" y="715.27" width="31.8" height="14" fill="#0000ff"/>
<rect x="1436.68" y="127.1" width="31.8" height="5.67" fill="#ff0000"/>
<rect x="1436.68" y="131.77" width="31.8" height="5.67" fill="#0000ff"/>
<rect x="1436.68" y="136.44" width="31.8" height="5.67" fill="#ff0000"/>
<rect x="1436.68" y="141.1" width="31.8" height="15" fill="#008000"/>
<rect x="1436.68" y="155.11" width="31.8" height="5.67" fill="#ff0000"/>
<rect x="1436.68" y="159.78" width="31.8" height="5.67" fill="#008000"/>
<rect x="1436.68" y="164.44" width="31.8" height="10.34" fill="#ff0000"/>
<rect x="1436.68" y="173.78" width="31.8" height="5.67" fill="#0000ff"/>
<rect x="1436.68" y="178.45" width="31.8" height="5.67" fill="#ff0000"/>
<rect x="1436.68" y="183.12" width="31.8" height="5.67" fill="#008000"/>
<rect x="1436.68" y="187.78" width="31.8" height="5.67" fill="#ff0000"/>
<rect x="1436.68" y="192.45" width="31.8" height="10.34" fill="#0000ff"/>
<rect x="1436.68" y="201.79" width="31.8" height="10.34" fill="#ff0000"/>
<rect x="1436.68" y="211.12" width="31.8" height="5.67" fill="#008000"/>
<rect x="1436.68" y="215.79" width="31.8" height="24.34" fill="#0000ff"/>
<rect x="1436.68" y="239.13" width="31.8" height="5.67" fill="#008000"/>
<rect x="1436.68" y="243.8" width="31.8" height="10.34" fill="#0000ff"/>
<rect x="1436.68" y="253.14" width="31.8" height="10.34" fill="#008000"/>
<rect x="1436.68" y="262.47" width="31.8" height="5.67" fill="#0000ff"/>
<rect x="1436.68" y="267.14" width="31.8" height="5.67" fill="#ff0000"/>
<rect x="1436.68" y="271.81" width="31.8" height="5.67" fill="#0000ff"/>
<rect x="1436.68" y="276.48" width="31.8" height="5.67" fill="#008000"/>
<rect x="1436.68" y="281.14" width="31.8" height="5.67" fill="#0000ff"/>
<rect x="1436.68" y="285.81" width="31.8" height="4.67" fill="#ff0000"/>
<rect x="1436.68" y="295.15" width="31.8" height="10.34" fill="#0000ff"/>
<rect x="1436.68" y="304.48" width="31.8" height="5.67" fill="#008000"/>
<rect x="1436.68" y="309.15" width="31.8" height="10.34" fill="#0000ff"/>
<rect x="1436.68" y="318.49" width="31.8" height="5.67" fill="#008000"/>
<rect x="1436.68" y="323.16" width="31.8" height="10.34" fill="#0000ff"/>
<rect x="1436.68" y="332.49" width="31.8" height="10.34" fill="#ff0000"/>
<rect x="1436.68" y="341.83" width="31.8" height="5.67" fill="#008000"/>
<rect x="1436.68" y="346.5" width="31.8" height="15" fill="#0000ff"/>
<rect x="1436.68" y="360.5" width="31.8" height="5.67" fill="#008000"/>
<rect x="1436.68" y="365.17" width="31.8" height="4.67" fill="#0000ff"/>
<rect x="1436.68" y="374.5" width="31.8" height="5.67" fill="#0000ff"/>
<rect x="1436.68" y="379.17" width="31.8" height="5.67" fill="#008000"/>
<rect x="1436.68" y="383.84" width="31.8" height="10.34" fill="#0000ff"/>
<rect x="1436.68" y="393.18" width="31.8" height="5.67" fill="#008000"/>
<rect x="1436.68" y="397.84" width="31.8" height="4.67" fill="#0000ff"/>
<rect x="1436.68" y="407.18" width="31.8" height="5.67" fill="#008000"/>
<rect x="1436.68" y="411.85" width="31.8" height="19.67" fill="#0000ff"/>
<rect x="1436.68" y="430.52" width="31.8" height="10.34" fill="#008000"/>
<rect x="1436.68" y="439.86" width="31.8" height="10.34" fill="#0000ff"/>
<rect x="1436.68" y="449.19" width="31.8" height="5.67" fill="#008000"/>
<rect x="1436.68" y="453.86" width="31.8" height="15" fill="#0000ff"/>
<rect x="1436.68" y="467.86" width="31.8" height="5.67" fill="#008000"/>
<rect x="1436.68" y="472.53" width="31.8" height="10.34" fill="#0000ff"/>
<rect x="1436.68" y="481.87" width="31.8" height="15" fill="#008000"/>
<rect x="1436.68" y="495.87" width="31.8" height="9.34" fill="#0000ff"/>
<rect x="1436.68" y="509.88" width="31.8" height="5.67" fill="#0000ff"/>
<rect x="1436.68" y="514.54" width="31.8" height="24.34" fill="#008000"/>
<rect x="1436.68" y="537.88" width="31.8" height="5.67" fill="#0000ff"/>
<rect x="1436.68" y="542.55" width="31.8" height="5.67" fill="#ff0000"/>
<rect x="1436.68" y="547.22" width="31.8" height="28.01" fill="#0000ff"/>
<rect x="1436.68" y="584.56" width="31.8" height="24.34" fill="#0000ff"/>
<rect x="1436.68" y="607.9" width="31.8" height="5.67" fill="#008000"/>
<rect x="1436.68" y="612.57" width="31.8" height="10.34" fill="#0000ff"/>
<rect x="1436.68" y="621.91" width="31.8" height="10.34" fill="#008000"/>
<rect x="1436.68" y="631.24" width="31.8" height="18.67" fill="#0000ff"/>
<rect x="1436.68" y="654.58" width="31.8" height="4.67" fill="#0000ff"/>
<rect x="1436.68" y="663.92" width="31.8" height="10.34" fill="#0000ff"/>
<rect x="1436.68" y="673.26" width="31.8" height="5.67" fill="#008000"/>
<rect x="1436.68" y="677.92" width="31.8" height="5.67" fill="#0000ff"/>
<rect x="1436.68" y="682.59" width="31.8" height="5.67" fill="#008000"/>
<rect x="1436.68" y="687.26" width="31.8" height="19.67" fill="#0000ff"/>
<rect x="1436.68" y="705.93" width="31.8" height="9.34" fill="#008000"/>
<rect x="1436.68" y="719.94" width="31.8" height="9.34" fill="#0000ff"/>
<rect x="1472.26" y="127.1" width="31.8" height="5.67" fill="#ff0000"/>
<rect x="1472.26" y="131.77" width="31.8" height="5.67" fill="#0000ff"/>
<rect x="1472.26" y="136.44" width="31.8" height="5.67" fill="#ff0000"/>
<rect x="1472.26" y="141.1" width="31.8" height="15" fill="#008000"/>
<rect x="1472.26" y="155.11" width="31.8" height="5.67" fill="#ff0000"/>
<rect x="1472.26" y="159.78" width="31.8" height="5.67" fill="#008000"/>
<rect x="1472.26" y="164.44" width="31.8" height="10.34" fill="#ff0000"/>
<rect x="1472.26" y="173.78" width="31.8" height="5.67" fill="#0000ff"/>
<rect x="1472.26" y="178.45" width="31.8" height="5.67" fill="#ff0000"/>
<rect x="1472.26" y="183.12" width="31.8" height="5.67" fill="#008000"/>
<rect x="1472.26" y="187.78" width="31.8" height="5.67" fill="#ff0000"/>
<rect x="1472.26" y="192.45" width="31.8" height="10.34" fill="#0000ff"/>
<rect x="1472.26" y="201.79" width="31.8" height="10.34" fill="#ff0000"/>
<rect x="1472.26" y="211.12" width="31.8" height="5.67" fill="#008000"/>
<rect x="1472.26" y="215.79" width="31.8" height="24.34" fill="#0000ff"/>
<rect x="1472.26" y="239.13" width="31.8" height="5.67" fill="#008000"/>
<rect x="1472.26" y="243.8" width="31.8" height="10.34" fill="#0000ff"/>
<rect x="1472.26" y="253.14" width="31.8" height="10.34" fill="#008000"/>
<rect x="1472.26" y="262.47" width="31.8" height="5.67" fill="#0000ff"/>
<rect x="1472.26" y="267.14" width="31.8" height="5.67" fill="#ff0000"/>
<rect x="1472.26" y="271.81" width="31.8" height="5.67" fill="#0000ff"/>
<rect x="1472.26" y="276.48" width="31.8" height="5.67" fill="#008000"/>
<rect x="1472.26" y="281.14" width="31.8" height="5.67" fill="#0000ff"/>
<rect x="1472.26" y="285.81" width="31.8" height="4.67" fill="#008000"/>
<rect x="1472.26" y="295.15" width="31.8" height="10.34" fill="#0000ff"/>
<rect x="1472.26" y="304.48" width="31.8" height="5.67" fill="#008000"/>
<rect x="1472.26" y="309.15" width="31.8" height="10.34" fill="#0000ff"/>
<rect x="1472.26" y="318.49" width="31.8" height="5.67" fill="#008000"/>
<rect x="1472.26" y="323.16" width="31.8" height="10.34" fill="#0000ff"/>
<rect x="1472.26" y="332.49" width="31.8" height="10.34" fill="#ff0000"/>
<rect x="1472.26" y="341.83" width="31.8" height="5.67" fill="#008000"/>
<rect x="1472.26" y="346.5" width="31.8" height="15" fill="#0000ff"/>
<rect x="1472.26" y="360.5" width="31.8" height="5.67" fill="#008000"/>
<rect x="1472.26" y="365.17" width="31.8" height="4.67" fill="#0000ff"/>
<rect x="1472.26" y="374.5" width="31.8" height="5.67" fill="#0000ff"/>
<rect x="1472.26" y="379.17" width="31.8" height="5.67" fill="#008000"/>
<rect x="1472.26" y="383.84" width="31.8" height="10.34" fill="#0000ff"/>
<rect x="1472.26" y="393.18" width="31.8" height="5.67" fill="#008000"/>
<rect x="1472.26" y="397.84" width="31.8" height="4.67" fill="#0000ff"/>
<rect x="1472.26" y="407.18" width="31.8" height="5.67" fill="#008000"/>
<rect x="1472.26" y="411.85" width="31.8" height="19.67" fill="#0000ff"/>
<rect x="1472.26" y="430.52" width="31.8" height="10.34" fill="#008000"/>
<rect x="1472.26" y="439.86" width="31.8" height="10.34" fill="#0000ff"/>
<rect x="1472.26" y="449.19" width="31.8" height="5.67" fill="#008000"/>
<rect x="1472.26" y="453.86" width="31.8" height="15" fill="#0000ff"/>
<rect x="1472.26" y="467.86" width="31.8" height="5.67" fill="#008000"/>
<rect x="1472.26" y="472.53" width="31.8" height="10.34" fill="#0000ff"/>
<rect x="1472.26" y="481.87" width="31.8" height="15" fill="#008000"/>
<rect x="1472.26" y="495.87" width="31.8" height="9.34" fill="#0000ff"/>
<rect x="1472.26" y="509.88" width="31.8" height="5.67" fill="#0000ff"/>
<rect x="1472.26" y="514.54" width="31.8" height="24.34" fill="#008000"/>
<rect x="1472.26" y="537.88" width="31.8" height="5.67" fill="#0000ff"/>
<rect x="1472.26" y="542.55" width="31.8" height="5.67" fill="#ff0000"/>
<rect x="1472.26" y="547.22" width="31.8" height="28.01" fill="#0000ff"/>
<rect x="1472.26" y="584.56" width="31.8" height="24.34" fill="#0000ff"/>
<rect x="1472.26" y="607.9" width="31.8" height="5.67" fill="#008000"/>
<rect x="1472.26" y="612.57" width="31.8" height="10.34" fill="#0000ff"/>
<rect x="1472.26" y="621.91" width="31.8" height="10.34" fill="#008000"/>
<rect x="1472.26" y="631.24" width="31.8" height="18.67" fill="#0000ff"/>
<rect x="1472.26" y="654.58" width="31.8" height="4.67" fill="#0000ff"/>
<rect x="1472.26" y="663.92" width="31.8" height="10.34" fill="#0000ff"/>
<rect x="1472.26" y="673.26" width="31.8" height="5.67" fill="#008000"/>
<rect x="1472.26" y="677.92" width="31.8" height="5.67" fill="#0000ff"/>
<rect x="1472.26" y="682.59" width="31.8" height="5.67" fill="#008000"/>
<rect x="1472.26" y="687.26" width="31.8" height="19.67" fill="#0000ff"/>
<rect x="1472.26" y="705.93" width="31.8" height="9.34" fill="#008000"/>
<rect x="1472.26" y="719.94" width="31.8" height="9.34" fill="#0000ff"/>
<rect x="1507.84" y="127.1" width="31.8" height="5.67" fill="#ff0000"/>
<rect x="1507.84" y="131.77" width="31.8" height="5.67" fill="#0000ff"/>
<rect x="1507.84" y="136.44" width="31.8" height="5.67" fill="#ff0000"/>
<rect x="1507.84" y="141.1" width="31.8" height="15" fill="#008000"/>
<rect x="1507.84" y="155.11" width="31.8" height="5.67" fill="#ff0000"/>
<rect x="1507.84" y="159.78" width="31.8" height="5.67" fill="#008000"/>
<rect x="1507.84" y="164.44" width="31.8" height="10.34" fill="#ff0000"/>
<rect x="1507.84" y="173.78" width="31.8" height="5.67" fill="#0000ff"/>
<rect x="1507.84" y="178.45" width="31.8" height="5.67" fill="#ff0000"/>
<rect x="1507.84" y="183.12" width="31.8" height="5.67" fill="#008000"/>
<rect x="1507.84" y="187.78" width="31.8" height="5.67" fill="#ff0000"/>
<rect x="1507.84" y="192.45" width="31.8" height="10.34" fill="#0000ff"/>
<rect x="1507.84" y="201.79" width="31.8" height="10.34" fill="#ff0000"/>
<rect x="1507.84" y="211.12" width="31.8" height="5.67" fill="#008000"/>
<rect x="1507.84" y="215.79" width="31.8" height="24.34" fill="#0000ff"/>
<rect x="1507.84" y="239.13" width="31.8" height="5.67" fill="#008000"/>
<rect x="1507.84" y="243.8" width="31.8" height="10.34" fill="#0000ff"/>
<rect x="1507.84" y="253.14" width="31.8" height="10.34" fill="#008000"/>
<rect x="1507.84" y="262.47" width="31.8" height="5.67" fill="#0000ff"/>
<rect x="1507.84" y="267.14" width="31.8" height="5.67" fill="#ff0000"/>
<rect x="1507.84" y="271.81" width="31.8" height="5.67" fill="#0000ff"/>
<rect x="1507.84" y="276.48" width="31.8" height="5.67" fill="#008000"/>
<rect x="1507.84" y="281.14" width="31.8" height="5.67" fill="#0000ff"/>
<rect x="1507.84" y="285.81" width="31.8" height="4.67" fill="#008000"/>
<rect x="1507.84" y="295.15" width="31.8" height="10.34" fill="#0000ff"/>
<rect x="1507.84" y="304.48" width="31.8" height="5.67" fill="#008000"/>
<rect x="1507.84" y="309.15" width="31.8" height="10.34" fill="#0000ff"/>
<rect x="1507.84" y="318.49" width="31.8" height="5.67" fill="#008000"/>
<rect x="1507.84" y="323.16" width="31.8" height="10.34" fill="#0000ff"/>
<rect x="1507.84" y="332.49" width="31.8" height="10.34" fill="#ff0000"/>
<rect x="1507.84" y="341.83" width="31.8" height="5.67" fill="#008000"/>
<rect x="1507.84" y="346.5" width="31.8" height="15" fill="#0000ff"/>
<rect x="1507.84" y="360.5" width="31.8" height="5.67" fill="#008000"/>
<rect x="1507.84" y="365.17" width="31.8" height="4.67" fill="#0000ff"/>
<rect x="1507.84" y="374.5" width="31.8" height="5.67" fill="#0000ff"/>
<rect x="1507.84" y="379.17" width="31.8" height="5.67" fill="#008000"/>
<rect x="1507.84" y="383.84" width="31.8" height="10.34" fill="#0000ff"/>
<rect x="1507.84" y="393.18" width="31.8" height="5.67" fill="#008000"/>
<rect x="1507.84" y="397.84" width="31.8" height="4.67" fill="#0000ff"/>
<rect x="1507.84" y="407.18" width="31.8" height="5.67" fill="#008000"/>
<rect x="1507.84" y="411.85" width="31.8" height="19.67" fill="#0000ff"/>
<rect x="1507.84" y="430.52" width="31.8" height="10.34" fill="#008000"/>
<rect x="1507.84" y="439.86" width="31.8" height="10.34" fill="#0000ff"/>
<rect x="1507.84" y="449.19" width="31.8" height="5.67" fill="#008000"/>
<rect x="1507.84" y="453.86" width="31.8" height="15" fill="#0000ff"/>
<rect x="1507.84" y="467.86" width="31.8" height="5.67" fill="#008000"/>
<rect x="1507.84" y="472.53" width="31.8" height="10.34" fill="#0000ff"/>
<rect x="1507.84" y="481.87" width="31.8" height="15" fill="#008000"/>
<rect x="1507.84" y="495.87" width="31.8" height="9.34" fill="#0000ff"/>
<rect x="1507.84" y="509.88" width="31.8" height="5.67" fill="#0000ff"/>
<rect x="1507.84" y="514.54" width="31.8" height="24.34" fill="#008000"/>
<rect x="1507.84" y="537.88" width="31.8" height="5.67" fill="#0000ff"/>
<rect x="1507.84" y="542.55" width="31.8" height="5.67" fill="#ff0000"/>
<rect x="1507.84" y="547.22" width="31.8" height="28.01" fill="#0000ff"/>
<rect x="1507.84" y="584.56" width="31.8" height="24.34" fill="#0000ff"/>
<rect x="1507.84" y="607.9" width="31.8" height="5.67" fill="#008000"/>
<rect x="1507.84" y="612.57" width="31.8" height="10.34" fill="#0000ff"/>
<rect x="1507.84" y="621.91" width="31.8" height="10.34" fill="#008000"/>
<rect x="1507.84" y="631.24" width="31.8" height="18.67" fill="#0000ff"/>
<rect x="1507.84" y="654.58" width="31.8" height="4.67" fill="#0000ff"/>
<rect x="1507.84" y="668.59" width="31.8" height="5.67" fill="#0000ff"/>
<rect x="1507.84" y="673.26" width="31.8" height="5.67" fill="#008000"/>
<rect x="1507.84" y="677.92" width="31.8" height="5.67" fill="#0000ff"/>
<rect x="1507.84" y="682.59" width="31.8" height="5.67" fill="#008000"/>
<rect x="1507.84" y="687.26" width="31.8" height="19.67" fill="#0000ff"/>
<rect x="1507.84" y="705.93" width="31.8" height="9.34" fill="#008000"/>
<rect x="1507.84" y="719.94" width="31.8" height="9.34" fill="#0000ff"/>
<rect x="1543.42" y="127.1" width="31.8" height="4.67" fill="#0000ff"/>
<rect x="1543.42" y="136.44" width="31.8" height="5.67" fill="#ff0000"/>
<rect x="1543.42" y="141.1" width="31.8" height="5.67" fill="#008000"/>
<rect x="1543.42" y="145.77" width="31.8" height="5.67" fill="#ff0000"/>
<rect x="1543.42" y="150.44" width="31.8" height="4.67" fill="#008000"/>
<rect x="1543.42" y="159.78" width="31.8" height="9.34" fill="#008000"/>
<rect x="1543.42" y="178.45" width="31.8" height="9.34" fill="#008000"/>
<rect x="1543.42" y="192.45" width="31.8" height="10.34" fill="#0000ff"/>
<rect x="1543.42" y="201.79" width="31.8" height="4.67" fill="#ff0000"/>
<rect x="1543.42" y="211.12" width="31.8" height="5.67" fill="#008000"/>
<rect x="1543.42" y="215.79" width="31.8" height="9.34" fill="#ff0000"/>
<rect x="1543.42" y="229.8" width="31.8" height="4.67" fill="#ff0000"/>
<rect x="1543.42" y="239.13" width="31.8" height="4.67" fill="#008000"/>
<rect x="1543.42" y="253.14" width="31.8" height="9.34" fill="#008000"/>
<rect x="1543.42" y="271.81" width="31.8" height="9.34" fill="#008000"/>
<rect x="1543.42" y="285.81" width="31.8" height="4.67" fill="#008000"/>
<rect x="1543.42" y="304.48" width="31.8" height="4.67" fill="#0000ff"/>
<rect x="1543.42" y="318.49" width="31.8" height="15" fill="#008000"/>
<rect x="1543.42" y="332.49" width="31.8" height="4.67" fill="#0000ff"/>
<rect x="1543.42" y="341.83" width="31.8" height="4.67" fill="#008000"/>
<rect x="1543.42" y="351.16" width="31.8" height="4.67" fill="#0000ff"/>
<rect x="1543.42" y="360.5" width="31.8" height="5.67" fill="#008000"/>
<rect x="1543.42" y="365.17" width="31.8" height="4.67" fill="#0000ff"/>
<rect x="1543.42" y="374.5" width="31.8" height="5.67" fill="#0000ff"/>
<rect x="1543.42" y="379.17" width="31.8" height="9.34" fill="#008000"/>
<rect x="1543.42" y="393.18" width="31.8" height="4.67" fill="#ff0000"/>
<rect x="1543.42" y="407.18" width="31.8" height="4.67" fill="#008000"/>
<rect x="1543.42" y="425.85" width="31.8" height="10.34" fill="#008000"/>
<rect x="1543.42" y="435.19" width="31.8" height="9.34" fill="#0000ff"/>
<rect x="1543.42" y="449.19" width="31.8" height="4.67" fill="#008000"/>
<rect x="1543.42" y="463.2" width="31.8" height="5.67" fill="#0000ff"/>
<rect x="1543.42" y="467.86" width="31.8" height="4.67" fill="#008000"/>
<rect x="1543.42" y="477.2" width="31.8" height="5.67" fill="#0000ff"/>
<rect x="1543.42" y="481.87" width="31.8" height="5.67" fill="#008000"/>
<rect x="1543.42" y="486.54" width="31.8" height="5.67" fill="#ff0000"/>
<rect x="1543.42" y="491.2" width="31.8" height="4.67" fill="#0000ff"/>
<rect x="1543.42" y="500.54" width="31.8" height="4.67" fill="#0000ff"/>
<rect x="1543.42" y="514.54" width="31.8" height="9.34" fill="#0000ff"/>
<rect x="1543.42" y="528.55" width="31.8" height="4.67" fill="#008000"/>
<rect x="1543.42" y="565.89" width="31.8" height="4.67" fill="#0000ff"/>
<rect x="1543.42" y="598.57" width="31.8" height="4.67" fill="#0000ff"/>
<rect x="1543.42" y="607.9" width="31.8" height="9.34" fill="#008000"/>
<rect x="1543.42" y="621.91" width="31.8" height="9.34" fill="#008000"/>
<rect x="1543.42" y="654.58" width="31.8" height="4.67" fill="#0000ff"/>
<rect x="1543.42" y="668.59" width="31.8" height="5.67" fill="#0000ff"/>
<rect x="1543.42" y="673.26" width="31.8" height="5.67" fill="#008000"/>
<rect x="1543.42" y="677.92" width="31.8" height="4.67" fill="#0000ff"/>
<rect x="1543.42" y="687.26" width="31.8" height="4.67" fill="#008000"/>
<rect x="1543.42" y="705.93" width="31.8" height="5.67" fill="#0000ff"/>
<rect x="1543.42" y="710.6" width="31.8" height="4.67" fill="#008000"/>
<rect x="1579" y="127.1" width="31.8" height="4.67" fill="#008000"/>
<rect x="1579" y="136.44" width="31.8" height="5.67" fill="#0000ff"/>
<rect x="1579" y="141.1" width="31.8" height="5.67" fill="#ff0000"/>
<rect x="1579" y="145.77" width="31.8" height="5.67" fill="#008000"/>
<rect x="1579" y="150.44" width="31.8" height="4.67" fill="#ff0000"/>
<rect x="1579" y="159.78" width="31.8" height="5.67" fill="#0000ff"/>
<rect x="1579" y="164.44" width="31.8" height="4.67" fill="#008000"/>
<rect x="1579" y="178.45" width="31.8" height="9.34" fill="#0000ff"/>
<rect x="1579" y="192.45" width="31.8" height="4.67" fill="#0000ff"/>
<rect x="1579" y="211.12" width="31.8" height="5.67" fill="#0000ff"/>
<rect x="1579" y="215.79" width="31.8" height="9.34" fill="#008000"/>
<rect x="1579" y="239.13" width="31.8" height="4.67" fill="#0000ff"/>
<rect x="1579" y="253.14" width="31.8" height="5.67" fill="#008000"/>
<rect x="1579" y="257.8" width="31.8" height="4.67" fill="#ff0000"/>
<rect x="1579" y="271.81" width="31.8" height="5.67" fill="#008000"/>
<rect x="1579" y="276.48" width="31.8" height="4.67" fill="#ff0000"/>
<rect x="1579" y="285.81" width="31.8" height="4.67" fill="#008000"/>
<rect x="1579" y="318.49" width="31.8" height="14" fill="#008000"/>
<rect x="1579" y="341.83" width="31.8" height="4.67" fill="#0000ff"/>
<rect x="1579" y="360.5" width="31.8" height="5.67" fill="#ff0000"/>
<rect x="1579" y="365.17" width="31.8" height="4.67" fill="#0000ff"/>
<rect x="1579" y="379.17" width="31.8" height="5.67" fill="#0000ff"/>
<rect x="1579" y="383.84" width="31.8" height="4.67" fill="#008000"/>
<rect x="1579" y="393.18" width="31.8" height="4.67" fill="#008000"/>
<rect x="1579" y="407.18" width="31.8" height="4.67" fill="#0000ff"/>
<rect x="1579" y="425.85" width="31.8" height="4.67" fill="#008000"/>
<rect x="1579" y="449.19" width="31.8" height="4.67" fill="#008000"/>
<rect x="1579" y="467.86" width="31.8" height="4.67" fill="#008000"/>
<rect x="1579" y="481.87" width="31.8" height="4.67" fill="#0000ff"/>
<rect x="1579" y="491.2" width="31.8" height="4.67" fill="#008000"/>
<rect x="1579" y="514.54" width="31.8" height="9.34" fill="#008000"/>
<rect x="1579" y="528.55" width="31.8" height="4.67" fill="#008000"/>
<rect x="1579" y="598.57" width="31.8" height="4.67" fill="#0000ff"/>
<rect x="1579" y="607.9" width="31.8" height="5.67" fill="#0000ff"/>
<rect x="1579" y="612.57" width="31.8" height="4.67" fill="#008000"/>
<rect x="1579" y="626.58" width="31.8" height="4.67" fill="#008000"/>
<rect x="1579" y="687.26" width="31.8" height="4.67" fill="#008000"/>
<rect x="1579" y="705.93" width="31.8" height="9.34" fill="#008000"/>
</g>
<text transform="translate(1183.72 742.5) scale(0.985 1)" font-size="24.4" fill="#222">0</text>
<text transform="translate(1171.71 532.87) scale(0.985 1)" font-size="24.4" fill="#222">45</text>
<text transform="translate(1171.71 323.23) scale(0.985 1)" font-size="24.4" fill="#222">90</text>
<text transform="translate(1159.69 113.6) scale(0.985 1)" font-size="24.4" fill="#222">135</text>
<text transform="translate(1233.09 764.2) scale(0.985 1)" font-size="24.4" fill="#222">1</text>
<text transform="translate(1262.66 764.2) scale(0.985 1)" font-size="24.4" fill="#222">14</text>
<text transform="translate(1298.24 764.2) scale(0.985 1)" font-size="24.4" fill="#222">15</text>
<text transform="translate(1333.82 764.2) scale(0.985 1)" font-size="24.4" fill="#222">19</text>
<text transform="translate(1369.4 764.2) scale(0.985 1)" font-size="24.4" fill="#222">20</text>
<text transform="translate(1404.98 764.2) scale(0.985 1)" font-size="24.4" fill="#222">33</text>
<text transform="translate(1440.56 764.2) scale(0.985 1)" font-size="24.4" fill="#222">34</text>
<text transform="translate(1476.14 764.2) scale(0.985 1)" font-size="24.4" fill="#222">35</text>
<text transform="translate(1511.72 764.2) scale(0.985 1)" font-size="24.4" fill="#222">45</text>
<text transform="translate(1547.3 764.2) scale(0.985 1)" font-size="24.4" fill="#222">46</text>
<text transform="translate(1582.88 764.2) scale(0.985 1)" font-size="24.4" fill="#222">47</text>
<text transform="translate(1385.45 795.2) scale(1.0755 1)" font-size="26.5" fill="#222">Stage</text>
<text transform="translate(1146.6 477.09) rotate(-90) scale(1.0786 1)" font-size="25.5" fill="#222">Link label</text>
<path d="M1114.5 228.7 H1193.3" stroke="#000" stroke-width="3.2" stroke-linecap="round" fill="none"/>
<path d="M1201.3 228.7 L1184.3 221.9 Q1188.8 226.7 1190.3 228.7 Q1188.8 230.7 1184.3 235.5 Z" fill="#000"/>
<rect x="911.3" y="1033.4" width="11.5" height="12.4" fill="#e6e6e6"/>
<rect x="911.3" y="1033.4" width="11.5" height="1.7" fill="#d2d2d2"/>
</svg>
</body>
</html>
